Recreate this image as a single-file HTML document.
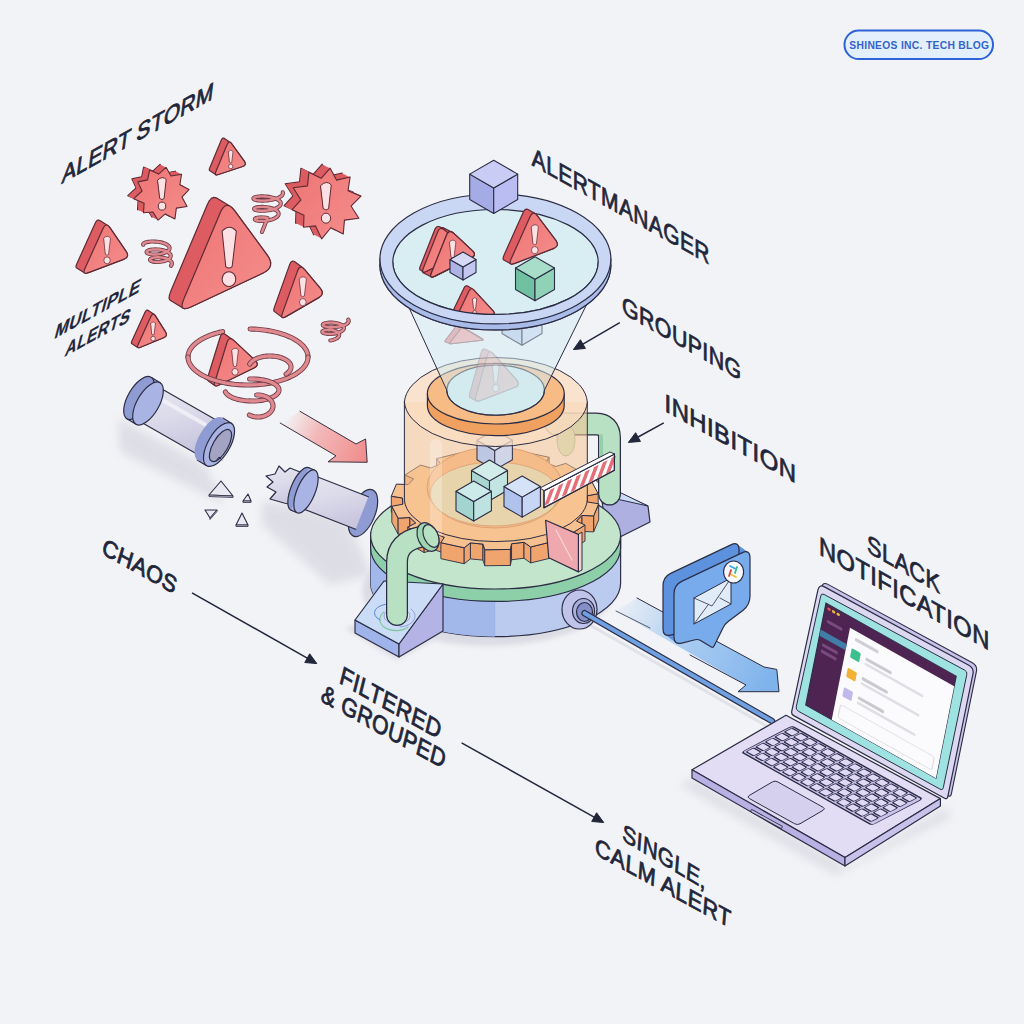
<!DOCTYPE html>
<html><head><meta charset="utf-8"><style>html,body{margin:0;padding:0;background:#f2f3f6;}svg{display:block;font-family:"Liberation Sans",sans-serif;}</style></head>
<body><svg width="1024" height="1024" viewBox="0 0 1024 1024"><defs>
<linearGradient id="redarrow" gradientUnits="userSpaceOnUse" x1="285" y1="418" x2="367" y2="458">
 <stop offset="0" stop-color="#f4b0b0" stop-opacity="0"/>
 <stop offset="0.4" stop-color="#f3a8a8" stop-opacity="0.8"/>
 <stop offset="1" stop-color="#f08a8a"/>
</linearGradient>
<linearGradient id="bluearrow" gradientUnits="userSpaceOnUse" x1="620" y1="600" x2="770" y2="680">
 <stop offset="0" stop-color="#a8cbf2" stop-opacity="0.1"/>
 <stop offset="0.45" stop-color="#9cc5f1" stop-opacity="0.85"/>
 <stop offset="1" stop-color="#7fb3ec"/>
</linearGradient>
<linearGradient id="redface" x1="0" y1="0" x2="1" y2="1">
 <stop offset="0" stop-color="#ee7474"/>
 <stop offset="1" stop-color="#f48e8c"/>
</linearGradient>
<linearGradient id="pipebody" x1="0" y1="0" x2="0.3" y2="1">
 <stop offset="0" stop-color="#e6e5f0"/>
 <stop offset="0.5" stop-color="#dcdbea"/>
 <stop offset="1" stop-color="#c9c6de"/>
</linearGradient>
<filter id="blur4" x="-30%" y="-30%" width="160%" height="160%"><feGaussianBlur stdDeviation="5"/></filter>
<filter id="blur2" x="-30%" y="-30%" width="160%" height="160%"><feGaussianBlur stdDeviation="2.5"/></filter>
</defs>
<rect width="1024" height="1024" fill="#f2f3f6"/>
<g filter="url(#blur4)" opacity="0.8">
<polygon points="118.00,418.00 205.00,465.00 225.00,505.00 120.00,452.00" fill="#d9dae2" stroke="none" stroke-width="1.2" stroke-linejoin="round" />
<polygon points="262.00,500.00 345.00,515.00 372.00,575.00 330.00,585.00 262.00,525.00" fill="#d9dae2" stroke="none" stroke-width="1.2" stroke-linejoin="round" />
<polygon points="680.00,785.00 835.00,875.00 950.00,818.00 948.00,806.00 845.00,866.00 692.00,778.00" fill="#d9dae2" stroke="none" stroke-width="1.2" stroke-linejoin="round" />
</g>
<g filter="url(#blur2)" opacity="0.9">
<ellipse cx="488.00" cy="591.00" rx="126.00" ry="55.00" fill="#d9dae2" stroke="none" stroke-width="1.2" />
<polygon points="345.00,628.00 396.00,660.00 450.00,632.00 440.00,600.00" fill="#d9dae2" stroke="none" stroke-width="1.2" stroke-linejoin="round" />
</g>
<path d="M590,625 L770,728" fill="none" stroke="#dcdde5" stroke-width="3" stroke-linejoin="round" stroke-linecap="round" opacity="0.8"/>
<path d="M282.77,192.22 L282.94,193.12 L282.79,194.02 L282.33,194.90 L281.56,195.76 L280.50,196.58 L279.17,197.35 L277.61,198.06 L275.85,198.69 L273.92,199.24 L271.88,199.70 L269.75,200.07 L267.60,200.35 L265.45,200.53 L263.37,200.62 L261.39,200.61 L259.56,200.52 L257.91,200.36 L256.48,200.12 L255.29,199.83 L254.38,199.49 L253.75,199.11 L253.43,198.72 L253.41,198.31 L253.69,197.92 L254.27,197.54 L255.13,197.19 L256.26,196.90 L257.62,196.66 L259.19,196.48 L260.93,196.39 L262.80,196.37 L264.76,196.45 L266.77,196.62 L268.79,196.88 L270.76,197.23 L272.66,197.68 L274.43,198.21 L276.05,198.82 L277.47,199.50 L278.66,200.24 L279.61,201.04 L280.29,201.87 L280.69,202.73 L280.80,203.60 L280.62,204.48 L280.15,205.33 L279.41,206.16 L278.41,206.95 L277.18,207.69 L275.74,208.37 L274.12,208.98 L272.36,209.50 L270.50,209.95 L268.57,210.30 L266.62,210.56 L264.70,210.73 L262.83,210.81 L261.06,210.80 L259.43,210.72 L257.97,210.56 L256.71,210.33 L255.68,210.05 L254.89,209.73 L254.37,209.38 L254.11,209.00 L254.14,208.63 L254.43,208.26 L255.00,207.91 L255.81,207.59 L256.85,207.33 L258.10,207.11 L259.54,206.97 L261.12,206.90 L262.81,206.91 L264.58,207.00 L266.39,207.18 L268.19,207.46 L269.95,207.82 L271.63,208.27 L273.20,208.80 L274.62,209.41 L275.86,210.08 L276.90,210.81 L277.71,211.59 L278.28,212.40 L278.59,213.24 L278.65,214.08 L278.44,214.93 L277.99,215.76 L277.29,216.56 L276.36,217.32 L275.22,218.03 L273.91,218.68 L272.44,219.26 L270.85,219.76 L269.17,220.19 L267.45,220.52 L265.71,220.77 L264.00,220.93 L262.34,221.00 L260.78,221.00 L259.35,220.91 L258.08,220.76 L256.98,220.55 L256.10,220.28 L255.43,219.98 L255.00,219.65 L254.81,219.30 L254.87,218.95 L255.17,218.61 L255.70,218.29 L256.46,218.00 L257.41,217.76 L258.55,217.58 L259.84,217.46 L261.26,217.41 L262.77,217.44 L264.34,217.56 L265.94,217.75 L267.53,218.04 L262.00,232.00" fill="none" stroke="#6e3a46" stroke-width="4.1" stroke-linejoin="round" stroke-linecap="round" />
<path d="M282.77,192.22 L282.94,193.12 L282.79,194.02 L282.33,194.90 L281.56,195.76 L280.50,196.58 L279.17,197.35 L277.61,198.06 L275.85,198.69 L273.92,199.24 L271.88,199.70 L269.75,200.07 L267.60,200.35 L265.45,200.53 L263.37,200.62 L261.39,200.61 L259.56,200.52 L257.91,200.36 L256.48,200.12 L255.29,199.83 L254.38,199.49 L253.75,199.11 L253.43,198.72 L253.41,198.31 L253.69,197.92 L254.27,197.54 L255.13,197.19 L256.26,196.90 L257.62,196.66 L259.19,196.48 L260.93,196.39 L262.80,196.37 L264.76,196.45 L266.77,196.62 L268.79,196.88 L270.76,197.23 L272.66,197.68 L274.43,198.21 L276.05,198.82 L277.47,199.50 L278.66,200.24 L279.61,201.04 L280.29,201.87 L280.69,202.73 L280.80,203.60 L280.62,204.48 L280.15,205.33 L279.41,206.16 L278.41,206.95 L277.18,207.69 L275.74,208.37 L274.12,208.98 L272.36,209.50 L270.50,209.95 L268.57,210.30 L266.62,210.56 L264.70,210.73 L262.83,210.81 L261.06,210.80 L259.43,210.72 L257.97,210.56 L256.71,210.33 L255.68,210.05 L254.89,209.73 L254.37,209.38 L254.11,209.00 L254.14,208.63 L254.43,208.26 L255.00,207.91 L255.81,207.59 L256.85,207.33 L258.10,207.11 L259.54,206.97 L261.12,206.90 L262.81,206.91 L264.58,207.00 L266.39,207.18 L268.19,207.46 L269.95,207.82 L271.63,208.27 L273.20,208.80 L274.62,209.41 L275.86,210.08 L276.90,210.81 L277.71,211.59 L278.28,212.40 L278.59,213.24 L278.65,214.08 L278.44,214.93 L277.99,215.76 L277.29,216.56 L276.36,217.32 L275.22,218.03 L273.91,218.68 L272.44,219.26 L270.85,219.76 L269.17,220.19 L267.45,220.52 L265.71,220.77 L264.00,220.93 L262.34,221.00 L260.78,221.00 L259.35,220.91 L258.08,220.76 L256.98,220.55 L256.10,220.28 L255.43,219.98 L255.00,219.65 L254.81,219.30 L254.87,218.95 L255.17,218.61 L255.70,218.29 L256.46,218.00 L257.41,217.76 L258.55,217.58 L259.84,217.46 L261.26,217.41 L262.77,217.44 L264.34,217.56 L265.94,217.75 L267.53,218.04 L262.00,232.00" fill="none" stroke="#e08a90" stroke-width="2.4" stroke-linejoin="round" stroke-linecap="round" />
<path d="M143.20,244.78 L143.09,244.30 L143.26,243.81 L143.72,243.34 L144.45,242.90 L145.43,242.50 L146.65,242.15 L148.07,241.87 L149.68,241.67 L151.42,241.54 L153.27,241.51 L155.18,241.58 L157.12,241.74 L159.04,242.00 L160.90,242.35 L162.66,242.80 L164.28,243.33 L165.74,243.94 L166.99,244.62 L168.02,245.36 L168.81,246.14 L169.33,246.95 L169.59,247.79 L169.57,248.62 L169.28,249.44 L168.73,250.24 L167.93,251.00 L166.90,251.71 L165.67,252.35 L164.27,252.93 L162.73,253.42 L161.09,253.82 L159.37,254.13 L157.63,254.35 L155.90,254.47 L154.22,254.50 L152.63,254.43 L151.17,254.28 L149.86,254.06 L148.74,253.76 L147.83,253.41 L147.15,253.01 L146.72,252.58 L146.55,252.13 L146.63,251.67 L146.98,251.22 L147.57,250.80 L148.41,250.41 L149.46,250.07 L150.71,249.78 L152.13,249.57 L153.69,249.44 L155.35,249.39 L157.08,249.43 L158.84,249.56 L160.60,249.79 L162.31,250.11 L163.95,250.52 L165.47,251.01 L166.85,251.58 L168.05,252.22 L169.05,252.92 L169.83,253.66 L170.39,254.44 L170.70,255.24 L170.76,256.04 L170.57,256.84 L170.15,257.62 L169.49,258.37 L168.63,259.07 L167.57,259.72 L166.35,260.29 L165.00,260.80 L163.54,261.22 L162.01,261.55 L160.44,261.79 L158.87,261.94 L157.34,262.00 L155.88,261.98 L154.53,261.87 L153.31,261.68 L152.25,261.43 L151.37,261.11 L150.70,260.75 L150.25,260.35 L150.03,259.94 L150.04,259.51 L150.29,259.08 L150.77,258.68 L151.46,258.30 L152.36,257.97 L153.44,257.69 L154.68,257.47 L156.06,257.33 L157.53,257.27 L159.08,257.29 L160.67,257.40 L162.26,257.60 L163.82,257.88 L165.33,258.26 L166.73,258.71 L168.01,259.24 L169.15,259.84 L170.11,260.50 L170.88,261.20 L171.44,261.95 L171.79,262.71 L171.92,263.49 L171.82,264.26 L171.51,265.02 L170.99,265.75" fill="none" stroke="#6e3a46" stroke-width="4.1" stroke-linejoin="round" stroke-linecap="round" />
<path d="M143.20,244.78 L143.09,244.30 L143.26,243.81 L143.72,243.34 L144.45,242.90 L145.43,242.50 L146.65,242.15 L148.07,241.87 L149.68,241.67 L151.42,241.54 L153.27,241.51 L155.18,241.58 L157.12,241.74 L159.04,242.00 L160.90,242.35 L162.66,242.80 L164.28,243.33 L165.74,243.94 L166.99,244.62 L168.02,245.36 L168.81,246.14 L169.33,246.95 L169.59,247.79 L169.57,248.62 L169.28,249.44 L168.73,250.24 L167.93,251.00 L166.90,251.71 L165.67,252.35 L164.27,252.93 L162.73,253.42 L161.09,253.82 L159.37,254.13 L157.63,254.35 L155.90,254.47 L154.22,254.50 L152.63,254.43 L151.17,254.28 L149.86,254.06 L148.74,253.76 L147.83,253.41 L147.15,253.01 L146.72,252.58 L146.55,252.13 L146.63,251.67 L146.98,251.22 L147.57,250.80 L148.41,250.41 L149.46,250.07 L150.71,249.78 L152.13,249.57 L153.69,249.44 L155.35,249.39 L157.08,249.43 L158.84,249.56 L160.60,249.79 L162.31,250.11 L163.95,250.52 L165.47,251.01 L166.85,251.58 L168.05,252.22 L169.05,252.92 L169.83,253.66 L170.39,254.44 L170.70,255.24 L170.76,256.04 L170.57,256.84 L170.15,257.62 L169.49,258.37 L168.63,259.07 L167.57,259.72 L166.35,260.29 L165.00,260.80 L163.54,261.22 L162.01,261.55 L160.44,261.79 L158.87,261.94 L157.34,262.00 L155.88,261.98 L154.53,261.87 L153.31,261.68 L152.25,261.43 L151.37,261.11 L150.70,260.75 L150.25,260.35 L150.03,259.94 L150.04,259.51 L150.29,259.08 L150.77,258.68 L151.46,258.30 L152.36,257.97 L153.44,257.69 L154.68,257.47 L156.06,257.33 L157.53,257.27 L159.08,257.29 L160.67,257.40 L162.26,257.60 L163.82,257.88 L165.33,258.26 L166.73,258.71 L168.01,259.24 L169.15,259.84 L170.11,260.50 L170.88,261.20 L171.44,261.95 L171.79,262.71 L171.92,263.49 L171.82,264.26 L171.51,265.02 L170.99,265.75" fill="none" stroke="#e08a90" stroke-width="2.4" stroke-linejoin="round" stroke-linecap="round" />
<path d="M348.22,319.63 L348.62,320.35 L348.76,321.08 L348.62,321.82 L348.23,322.54 L347.57,323.25 L346.67,323.93 L345.55,324.56 L344.23,325.14 L342.74,325.66 L341.11,326.11 L339.38,326.49 L337.57,326.79 L335.73,327.01 L333.89,327.15 L332.09,327.21 L330.38,327.18 L328.77,327.08 L327.30,326.92 L326.00,326.69 L324.90,326.40 L324.01,326.07 L323.35,325.71 L322.93,325.33 L322.76,324.93 L322.84,324.53 L323.15,324.14 L323.70,323.78 L324.47,323.44 L325.43,323.16 L326.56,322.92 L327.85,322.75 L329.25,322.64 L330.75,322.61 L332.29,322.65 L333.86,322.78 L335.41,322.98 L336.92,323.26 L338.35,323.62 L339.67,324.05 L340.85,324.54 L341.86,325.09 L342.70,325.70 L343.34,326.34 L343.76,327.02 L343.96,327.71 L343.94,328.42 L343.69,329.12 L343.23,329.81 L342.56,330.47 L341.70,331.10 L340.67,331.68 L339.49,332.21 L338.18,332.68 L336.76,333.08 L335.28,333.40 L333.76,333.66 L332.23,333.83 L330.72,333.93 L329.27,333.95 L327.89,333.90 L326.62,333.78 L325.48,333.60 L324.50,333.37 L323.68,333.08 L323.05,332.76 L322.61,332.42 L322.37,332.05 L322.33,331.69 L322.50,331.32 L322.85,330.98 L323.39,330.66 L324.09,330.37 L324.94,330.13 L325.93,329.95 L327.02,329.83 L328.19,329.77 L329.41,329.79 L330.66,329.88 L331.91,330.04 L333.13,330.28 L334.30,330.60 L335.39,330.98 L336.38,331.43 L337.24,331.93 L337.96,332.49 L338.53,333.09 L338.93,333.72 L339.15,334.38 L339.20,335.05 L339.07,335.72 L338.76,336.39 L338.28,337.03 L337.65,337.65 L336.87,338.23 L335.97,338.76 L334.96,339.24 L333.86,339.66 L332.70,340.01 L331.50,340.29 L330.28,340.50" fill="none" stroke="#6e3a46" stroke-width="4.1" stroke-linejoin="round" stroke-linecap="round" />
<path d="M348.22,319.63 L348.62,320.35 L348.76,321.08 L348.62,321.82 L348.23,322.54 L347.57,323.25 L346.67,323.93 L345.55,324.56 L344.23,325.14 L342.74,325.66 L341.11,326.11 L339.38,326.49 L337.57,326.79 L335.73,327.01 L333.89,327.15 L332.09,327.21 L330.38,327.18 L328.77,327.08 L327.30,326.92 L326.00,326.69 L324.90,326.40 L324.01,326.07 L323.35,325.71 L322.93,325.33 L322.76,324.93 L322.84,324.53 L323.15,324.14 L323.70,323.78 L324.47,323.44 L325.43,323.16 L326.56,322.92 L327.85,322.75 L329.25,322.64 L330.75,322.61 L332.29,322.65 L333.86,322.78 L335.41,322.98 L336.92,323.26 L338.35,323.62 L339.67,324.05 L340.85,324.54 L341.86,325.09 L342.70,325.70 L343.34,326.34 L343.76,327.02 L343.96,327.71 L343.94,328.42 L343.69,329.12 L343.23,329.81 L342.56,330.47 L341.70,331.10 L340.67,331.68 L339.49,332.21 L338.18,332.68 L336.76,333.08 L335.28,333.40 L333.76,333.66 L332.23,333.83 L330.72,333.93 L329.27,333.95 L327.89,333.90 L326.62,333.78 L325.48,333.60 L324.50,333.37 L323.68,333.08 L323.05,332.76 L322.61,332.42 L322.37,332.05 L322.33,331.69 L322.50,331.32 L322.85,330.98 L323.39,330.66 L324.09,330.37 L324.94,330.13 L325.93,329.95 L327.02,329.83 L328.19,329.77 L329.41,329.79 L330.66,329.88 L331.91,330.04 L333.13,330.28 L334.30,330.60 L335.39,330.98 L336.38,331.43 L337.24,331.93 L337.96,332.49 L338.53,333.09 L338.93,333.72 L339.15,334.38 L339.20,335.05 L339.07,335.72 L338.76,336.39 L338.28,337.03 L337.65,337.65 L336.87,338.23 L335.97,338.76 L334.96,339.24 L333.86,339.66 L332.70,340.01 L331.50,340.29 L330.28,340.50" fill="none" stroke="#e08a90" stroke-width="2.4" stroke-linejoin="round" stroke-linecap="round" />
<polygon points="160.03,164.32 165.03,172.97 175.55,171.17 173.90,181.72 182.99,186.53 175.93,194.01 181.05,203.54 170.36,205.15 168.92,215.92 159.29,210.89 152.04,217.21 146.97,209.03 137.50,209.77 138.10,200.28 127.72,195.68 136.07,187.99 131.82,178.89 141.64,176.85 143.58,167.05 152.71,171.11" fill="#dc5c61" stroke="#5e2a34" stroke-width="1.1" stroke-linejoin="round" />
<polygon points="160.63,164.62 165.63,173.27 176.15,171.47 174.50,182.02 183.59,186.83 176.53,194.31 181.65,203.84 170.96,205.45 169.52,216.22 159.89,211.19 152.64,217.51 147.57,209.33 138.10,210.07 138.70,200.58 128.32,195.98 136.67,188.29 132.42,179.19 142.24,177.15 144.18,167.35 153.31,171.41" fill="#dc5c61" stroke="none" stroke-width="1.1" stroke-linejoin="round" />
<polygon points="161.23,164.92 166.23,173.57 176.75,171.77 175.10,182.32 184.19,187.13 177.13,194.61 182.25,204.14 171.56,205.75 170.12,216.52 160.49,211.49 153.24,217.81 148.17,209.63 138.70,210.37 139.30,200.88 128.92,196.28 137.27,188.59 133.02,179.49 142.84,177.45 144.78,167.65 153.91,171.71" fill="#dc5c61" stroke="none" stroke-width="1.1" stroke-linejoin="round" />
<polygon points="161.83,165.22 166.83,173.87 177.35,172.07 175.70,182.62 184.79,187.43 177.73,194.91 182.85,204.44 172.16,206.05 170.72,216.82 161.09,211.79 153.84,218.11 148.77,209.93 139.30,210.67 139.90,201.18 129.52,196.58 137.87,188.89 133.62,179.79 143.44,177.75 145.38,167.95 154.51,172.01" fill="#dc5c61" stroke="none" stroke-width="1.1" stroke-linejoin="round" />
<polygon points="162.43,165.52 167.43,174.17 177.95,172.37 176.30,182.92 185.39,187.73 178.33,195.21 183.45,204.74 172.76,206.35 171.32,217.12 161.69,212.09 154.44,218.41 149.37,210.23 139.90,210.97 140.50,201.48 130.12,196.88 138.47,189.19 134.22,180.09 144.04,178.05 145.98,168.25 155.11,172.31" fill="#dc5c61" stroke="none" stroke-width="1.1" stroke-linejoin="round" />
<polygon points="163.03,165.82 168.03,174.47 178.55,172.67 176.90,183.22 185.99,188.03 178.93,195.51 184.05,205.04 173.36,206.65 171.92,217.42 162.29,212.39 155.04,218.71 149.97,210.53 140.50,211.27 141.10,201.78 130.72,197.18 139.07,189.49 134.82,180.39 144.64,178.35 146.58,168.55 155.71,172.61" fill="#dc5c61" stroke="none" stroke-width="1.1" stroke-linejoin="round" />
<polygon points="163.63,166.12 168.63,174.77 179.15,172.97 177.50,183.52 186.59,188.33 179.53,195.81 184.65,205.34 173.96,206.95 172.52,217.72 162.89,212.69 155.64,219.01 150.57,210.83 141.10,211.57 141.70,202.08 131.32,197.48 139.67,189.79 135.42,180.69 145.24,178.65 147.18,168.85 156.31,172.91" fill="#dc5c61" stroke="none" stroke-width="1.1" stroke-linejoin="round" />
<polygon points="164.23,166.42 169.23,175.07 179.75,173.27 178.10,183.82 187.19,188.63 180.13,196.11 185.25,205.64 174.56,207.25 173.12,218.02 163.49,212.99 156.24,219.31 151.17,211.13 141.70,211.87 142.30,202.38 131.92,197.78 140.27,190.09 136.02,180.99 145.84,178.95 147.78,169.15 156.91,173.21" fill="#dc5c61" stroke="none" stroke-width="1.1" stroke-linejoin="round" />
<polygon points="164.83,166.72 169.83,175.37 180.35,173.57 178.70,184.12 187.79,188.93 180.73,196.41 185.85,205.94 175.16,207.55 173.72,218.32 164.09,213.29 156.84,219.61 151.77,211.43 142.30,212.17 142.90,202.68 132.52,198.08 140.87,190.39 136.62,181.29 146.44,179.25 148.38,169.45 157.51,173.51" fill="#dc5c61" stroke="none" stroke-width="1.1" stroke-linejoin="round" />
<polygon points="165.43,167.02 170.43,175.67 180.95,173.87 179.30,184.42 188.39,189.23 181.33,196.71 186.45,206.24 175.76,207.85 174.32,218.62 164.69,213.59 157.44,219.91 152.37,211.73 142.90,212.47 143.50,202.98 133.12,198.38 141.47,190.69 137.22,181.59 147.04,179.55 148.98,169.75 158.11,173.81" fill="#dc5c61" stroke="none" stroke-width="1.1" stroke-linejoin="round" />
<polygon points="166.03,167.32 171.03,175.97 181.55,174.17 179.90,184.72 188.99,189.53 181.93,197.01 187.05,206.54 176.36,208.15 174.92,218.92 165.29,213.89 158.04,220.21 152.97,212.03 143.50,212.77 144.10,203.28 133.72,198.68 142.07,190.99 137.82,181.89 147.64,179.85 149.58,170.05 158.71,174.11" fill="url(#redface)" stroke="#5e2a34" stroke-width="1.1" stroke-linejoin="round" />
<path d="M157.80,180.00 Q162.47,175.33 166.20,179.53 L164.05,198.67 Q162.00,200.53 159.95,198.67 Z" fill="#fbe1e3" stroke="#5e2a34" stroke-width="1" stroke-linejoin="round" stroke-linecap="round" />
<ellipse cx="162.00" cy="206.13" rx="3.73" ry="4.01" fill="#fbe1e3" stroke="#5e2a34" stroke-width="1" />
<polygon points="322.20,164.17 328.60,176.14 342.15,172.99 340.01,186.73 353.01,192.12 343.02,202.02 350.84,214.23 336.47,216.15 335.27,230.00 322.86,223.73 313.68,234.87 307.40,221.86 295.55,223.18 295.99,211.27 284.12,205.66 292.98,195.98 285.16,183.77 299.53,181.85 300.88,168.28 313.14,174.27" fill="#dc5c61" stroke="#5e2a34" stroke-width="1.1" stroke-linejoin="round" />
<polygon points="323.00,164.57 329.40,176.54 342.95,173.39 340.81,187.13 353.81,192.52 343.82,202.42 351.64,214.63 337.27,216.55 336.07,230.40 323.66,224.13 314.48,235.27 308.20,222.26 296.35,223.58 296.79,211.67 284.92,206.06 293.78,196.38 285.96,184.17 300.33,182.25 301.68,168.68 313.94,174.67" fill="#dc5c61" stroke="none" stroke-width="1.1" stroke-linejoin="round" />
<polygon points="323.80,164.97 330.20,176.94 343.75,173.79 341.61,187.53 354.61,192.92 344.62,202.82 352.44,215.03 338.07,216.95 336.87,230.80 324.46,224.53 315.28,235.67 309.00,222.66 297.15,223.98 297.59,212.07 285.72,206.46 294.58,196.78 286.76,184.57 301.13,182.65 302.48,169.08 314.74,175.07" fill="#dc5c61" stroke="none" stroke-width="1.1" stroke-linejoin="round" />
<polygon points="324.60,165.37 331.00,177.34 344.55,174.19 342.41,187.93 355.41,193.32 345.42,203.22 353.24,215.43 338.87,217.35 337.67,231.20 325.26,224.93 316.08,236.07 309.80,223.06 297.95,224.38 298.39,212.47 286.52,206.86 295.38,197.18 287.56,184.97 301.93,183.05 303.28,169.48 315.54,175.47" fill="#dc5c61" stroke="none" stroke-width="1.1" stroke-linejoin="round" />
<polygon points="325.40,165.77 331.80,177.74 345.35,174.59 343.21,188.33 356.21,193.72 346.22,203.62 354.04,215.83 339.67,217.75 338.47,231.60 326.06,225.33 316.88,236.47 310.60,223.46 298.75,224.78 299.19,212.87 287.32,207.26 296.18,197.58 288.36,185.37 302.73,183.45 304.08,169.88 316.34,175.87" fill="#dc5c61" stroke="none" stroke-width="1.1" stroke-linejoin="round" />
<polygon points="326.20,166.17 332.60,178.14 346.15,174.99 344.01,188.73 357.01,194.12 347.02,204.02 354.84,216.23 340.47,218.15 339.27,232.00 326.86,225.73 317.68,236.87 311.40,223.86 299.55,225.18 299.99,213.27 288.12,207.66 296.98,197.98 289.16,185.77 303.53,183.85 304.88,170.28 317.14,176.27" fill="#dc5c61" stroke="none" stroke-width="1.1" stroke-linejoin="round" />
<polygon points="327.00,166.57 333.40,178.54 346.95,175.39 344.81,189.13 357.81,194.52 347.82,204.42 355.64,216.63 341.27,218.55 340.07,232.40 327.66,226.13 318.48,237.27 312.20,224.26 300.35,225.58 300.79,213.67 288.92,208.06 297.78,198.38 289.96,186.17 304.33,184.25 305.68,170.68 317.94,176.67" fill="#dc5c61" stroke="none" stroke-width="1.1" stroke-linejoin="round" />
<polygon points="327.80,166.97 334.20,178.94 347.75,175.79 345.61,189.53 358.61,194.92 348.62,204.82 356.44,217.03 342.07,218.95 340.87,232.80 328.46,226.53 319.28,237.67 313.00,224.66 301.15,225.98 301.59,214.07 289.72,208.46 298.58,198.78 290.76,186.57 305.13,184.65 306.48,171.08 318.74,177.07" fill="#dc5c61" stroke="none" stroke-width="1.1" stroke-linejoin="round" />
<polygon points="328.60,167.37 335.00,179.34 348.55,176.19 346.41,189.93 359.41,195.32 349.42,205.22 357.24,217.43 342.87,219.35 341.67,233.20 329.26,226.93 320.08,238.07 313.80,225.06 301.95,226.38 302.39,214.47 290.52,208.86 299.38,199.18 291.56,186.97 305.93,185.05 307.28,171.48 319.54,177.47" fill="#dc5c61" stroke="none" stroke-width="1.1" stroke-linejoin="round" />
<polygon points="329.40,167.77 335.80,179.74 349.35,176.59 347.21,190.33 360.21,195.72 350.22,205.62 358.04,217.83 343.67,219.75 342.47,233.60 330.06,227.33 320.88,238.47 314.60,225.46 302.75,226.78 303.19,214.87 291.32,209.26 300.18,199.58 292.36,187.37 306.73,185.45 308.08,171.88 320.34,177.87" fill="#dc5c61" stroke="none" stroke-width="1.1" stroke-linejoin="round" />
<polygon points="330.20,168.17 336.60,180.14 350.15,176.99 348.01,190.73 361.01,196.12 351.02,206.02 358.84,218.23 344.47,220.15 343.27,234.00 330.86,227.73 321.68,238.87 315.40,225.86 303.55,227.18 303.99,215.27 292.12,209.66 300.98,199.98 293.16,187.77 307.53,185.85 308.88,172.28 321.14,178.27" fill="url(#redface)" stroke="#5e2a34" stroke-width="1.1" stroke-linejoin="round" />
<path d="M320.75,185.50 Q326.58,179.67 331.25,184.92 L328.57,208.83 Q326.00,211.17 323.43,208.83 Z" fill="#fbe1e3" stroke="#5e2a34" stroke-width="1" stroke-linejoin="round" stroke-linecap="round" />
<ellipse cx="326.00" cy="218.17" rx="4.67" ry="5.02" fill="#fbe1e3" stroke="#5e2a34" stroke-width="1" />
<g>
<polygon points="209.29,169.92 209.37,168.96 209.80,167.68 221.20,140.32 221.83,139.11 222.50,138.34 223.23,138.03 224.02,138.17 230.02,142.17 230.85,142.76 231.73,143.80 244.27,161.20 244.98,162.40 245.29,163.48 245.21,164.42 244.72,165.24 243.84,165.92 242.56,166.48 218.44,174.52 217.13,174.85 216.17,174.86 215.56,174.55 209.56,170.55" fill="#dc5c61" stroke="#5e2a34" stroke-width="1.2" stroke-linejoin="round" />
<path d="M231.73,143.80 Q229.00,140.00 227.20,144.32 L215.80,171.68 Q214.00,176.00 218.44,174.52 L242.56,166.48 Q247.00,165.00 244.27,161.20 Z" fill="url(#redface)" stroke="#5e2a34" stroke-width="1.2" stroke-linejoin="round" stroke-linecap="round" />
<path d="M228.56,151.33 Q230.90,148.81 233.06,151.33 L231.73,162.49 Q230.72,163.39 229.71,162.49 Z" fill="#fbe1e3" stroke="#5e2a34" stroke-width="0.7" stroke-linejoin="round" stroke-linecap="round" />
<ellipse cx="230.72" cy="166.45" rx="2.16" ry="2.34" fill="#fbe1e3" stroke="#5e2a34" stroke-width="0.7" />
</g>
<g>
<polygon points="75.98,266.94 76.15,265.57 76.84,263.72 95.16,223.28 96.13,221.52 97.17,220.42 98.26,219.99 99.42,220.22 107.42,225.22 108.63,226.12 109.90,227.68 126.10,251.32 127.11,253.12 127.55,254.74 127.41,256.18 126.70,257.44 125.41,258.52 123.55,259.42 88.45,272.58 86.56,273.15 85.18,273.23 84.32,272.83 76.32,267.83" fill="#dc5c61" stroke="#5e2a34" stroke-width="1.2" stroke-linejoin="round" />
<path d="M109.90,227.68 Q106.00,222.00 103.16,228.28 L84.84,268.72 Q82.00,275.00 88.45,272.58 L123.55,259.42 Q130.00,257.00 126.10,251.32 Z" fill="url(#redface)" stroke="#5e2a34" stroke-width="1.2" stroke-linejoin="round" stroke-linecap="round" />
<path d="M103.88,238.08 Q107.33,234.37 110.50,238.08 L108.54,254.51 Q107.06,255.84 105.58,254.51 Z" fill="#fbe1e3" stroke="#5e2a34" stroke-width="0.7" stroke-linejoin="round" stroke-linecap="round" />
<ellipse cx="107.06" cy="260.34" rx="3.18" ry="3.45" fill="#fbe1e3" stroke="#5e2a34" stroke-width="0.7" />
</g>
<g>
<polygon points="169.05,298.23 169.37,295.34 170.75,291.34 207.25,204.66 209.25,200.82 211.42,198.40 213.76,197.40 216.26,197.82 229.26,205.82 231.94,207.67 234.78,210.94 267.22,255.06 269.53,258.88 270.61,262.39 270.45,265.59 269.06,268.47 266.44,271.04 262.58,273.30 191.42,306.70 187.48,308.25 184.60,308.68 182.79,308.01 169.79,300.01" fill="#dc5c61" stroke="#5e2a34" stroke-width="1.2" stroke-linejoin="round" />
<path d="M234.78,210.94 Q226.00,199.00 220.25,212.66 L183.75,299.34 Q178.00,313.00 191.42,306.70 L262.58,273.30 Q276.00,267.00 267.22,255.06 Z" fill="url(#redface)" stroke="#5e2a34" stroke-width="1.2" stroke-linejoin="round" stroke-linecap="round" />
<path d="M222.11,231.17 Q229.52,223.19 236.36,231.17 L232.14,266.51 Q228.95,269.36 225.75,266.51 Z" fill="#fbe1e3" stroke="#5e2a34" stroke-width="1.026" stroke-linejoin="round" stroke-linecap="round" />
<ellipse cx="228.95" cy="279.05" rx="6.84" ry="7.41" fill="#fbe1e3" stroke="#5e2a34" stroke-width="1.026" />
</g>
<g>
<polygon points="273.79,310.55 273.88,309.14 274.45,307.14 289.55,264.86 290.43,262.92 291.43,261.67 292.55,261.11 293.80,261.25 295.17,262.07 303.17,268.07 304.66,269.59 320.34,288.41 321.59,290.22 322.23,291.92 322.26,293.51 321.68,295.00 320.49,296.37 318.70,297.64 286.30,316.36 284.45,317.28 283.07,317.62 282.19,317.38 274.19,311.38" fill="#dc5c61" stroke="#5e2a34" stroke-width="1.2" stroke-linejoin="round" />
<path d="M304.66,269.59 Q300.00,264.00 297.55,270.86 L282.45,313.14 Q280.00,320.00 286.30,316.36 L318.70,297.64 Q325.00,294.00 320.34,288.41 Z" fill="url(#redface)" stroke="#5e2a34" stroke-width="1.2" stroke-linejoin="round" stroke-linecap="round" />
<path d="M299.43,278.67 Q303.07,274.75 306.43,278.67 L304.35,296.03 Q302.79,297.43 301.22,296.03 Z" fill="#fbe1e3" stroke="#5e2a34" stroke-width="0.7" stroke-linejoin="round" stroke-linecap="round" />
<ellipse cx="302.79" cy="302.19" rx="3.36" ry="3.64" fill="#fbe1e3" stroke="#5e2a34" stroke-width="0.7" />
</g>
<g>
<polygon points="131.39,342.86 131.52,341.91 132.01,340.63 144.99,312.37 145.68,311.15 146.39,310.40 147.14,310.11 147.91,310.30 153.91,314.30 154.71,314.95 155.55,316.08 165.45,331.92 166.11,333.22 166.37,334.39 166.25,335.43 165.74,336.35 164.83,337.14 163.54,337.81 140.46,347.19 139.15,347.62 138.20,347.71 137.62,347.45 131.62,343.45" fill="#dc5c61" stroke="#5e2a34" stroke-width="1.2" stroke-linejoin="round" />
<path d="M155.55,316.08 Q153.00,312.00 150.99,316.37 L138.01,344.63 Q136.00,349.00 140.46,347.19 L163.54,337.81 Q168.00,336.00 165.45,331.92 Z" fill="url(#redface)" stroke="#5e2a34" stroke-width="1.2" stroke-linejoin="round" stroke-linecap="round" />
<path d="M150.85,323.08 Q153.26,320.49 155.48,323.08 L154.11,334.55 Q153.07,335.48 152.04,334.55 Z" fill="#fbe1e3" stroke="#5e2a34" stroke-width="0.7" stroke-linejoin="round" stroke-linecap="round" />
<ellipse cx="153.07" cy="338.62" rx="2.22" ry="2.40" fill="#fbe1e3" stroke="#5e2a34" stroke-width="0.7" />
</g>
<path d="M222.64,331.62 L221.11,331.97 L219.60,332.34 L218.11,332.72 L216.65,333.13 L215.21,333.55 L213.80,333.99 L212.42,334.46 L211.06,334.94 L209.73,335.43 L208.44,335.95 L207.18,336.48 L205.95,337.03 L204.75,337.59 L203.59,338.17 L202.46,338.77 L201.37,339.38 L200.32,340.00 L199.31,340.64 L198.33,341.29 L197.40,341.96 L196.50,342.63 L195.65,343.32 L194.84,344.02 L194.07,344.73 L193.35,345.44 L192.67,346.17 L192.03,346.91 L191.44,347.65 L190.90,348.41 L190.40,349.16 L189.94,349.93 L189.54,350.70 L189.18,351.48 L188.87,352.26 L188.60,353.04 L188.39,353.83 L188.22,354.62 L188.10,355.41 L188.02,356.21 L188.00,357.00" fill="none" stroke="#6e3a46" stroke-width="5.1" stroke-linejoin="round" stroke-linecap="round" />
<path d="M222.64,331.62 L221.11,331.97 L219.60,332.34 L218.11,332.72 L216.65,333.13 L215.21,333.55 L213.80,333.99 L212.42,334.46 L211.06,334.94 L209.73,335.43 L208.44,335.95 L207.18,336.48 L205.95,337.03 L204.75,337.59 L203.59,338.17 L202.46,338.77 L201.37,339.38 L200.32,340.00 L199.31,340.64 L198.33,341.29 L197.40,341.96 L196.50,342.63 L195.65,343.32 L194.84,344.02 L194.07,344.73 L193.35,345.44 L192.67,346.17 L192.03,346.91 L191.44,347.65 L190.90,348.41 L190.40,349.16 L189.94,349.93 L189.54,350.70 L189.18,351.48 L188.87,352.26 L188.60,353.04 L188.39,353.83 L188.22,354.62 L188.10,355.41 L188.02,356.21 L188.00,357.00" fill="none" stroke="#e08a90" stroke-width="3.4" stroke-linejoin="round" stroke-linecap="round" />
<path d="M308.00,357.00 L307.96,355.93 L307.82,354.85 L307.60,353.78 L307.29,352.72 L306.90,351.66 L306.41,350.61 L305.85,349.56 L305.19,348.53 L304.45,347.52 L303.63,346.51 L302.73,345.52 L301.74,344.55 L300.68,343.60 L299.54,342.66 L298.32,341.75 L297.03,340.86 L295.66,339.99 L294.23,339.15 L292.73,338.34 L291.16,337.55 L289.53,336.79 L287.84,336.06 L286.08,335.36 L284.28,334.70 L282.41,334.06 L280.50,333.46 L278.54,332.90 L276.54,332.37 L274.49,331.88 L272.40,331.42 L270.28,331.00 L268.13,330.62 L265.94,330.28 L263.73,329.98 L261.50,329.72 L259.24,329.50 L256.97,329.31 L254.69,329.17 L252.39,329.08 L250.09,329.02" fill="none" stroke="#6e3a46" stroke-width="5.1" stroke-linejoin="round" stroke-linecap="round" />
<path d="M308.00,357.00 L307.96,355.93 L307.82,354.85 L307.60,353.78 L307.29,352.72 L306.90,351.66 L306.41,350.61 L305.85,349.56 L305.19,348.53 L304.45,347.52 L303.63,346.51 L302.73,345.52 L301.74,344.55 L300.68,343.60 L299.54,342.66 L298.32,341.75 L297.03,340.86 L295.66,339.99 L294.23,339.15 L292.73,338.34 L291.16,337.55 L289.53,336.79 L287.84,336.06 L286.08,335.36 L284.28,334.70 L282.41,334.06 L280.50,333.46 L278.54,332.90 L276.54,332.37 L274.49,331.88 L272.40,331.42 L270.28,331.00 L268.13,330.62 L265.94,330.28 L263.73,329.98 L261.50,329.72 L259.24,329.50 L256.97,329.31 L254.69,329.17 L252.39,329.08 L250.09,329.02" fill="none" stroke="#e08a90" stroke-width="3.4" stroke-linejoin="round" stroke-linecap="round" />
<g>
<polygon points="207.55,378.43 207.99,376.54 220.01,337.46 220.76,335.62 221.66,334.38 222.74,333.77 223.97,333.77 225.37,334.39 232.37,339.39 233.94,340.62 255.06,360.38 256.40,361.88 257.13,363.28 257.25,364.59 256.75,365.81 255.65,366.94 253.93,367.97 219.07,385.03 217.27,385.76 215.92,385.96 215.01,385.64 208.01,380.64 207.56,379.80" fill="#dc5c61" stroke="#5e2a34" stroke-width="1.2" stroke-linejoin="round" />
<path d="M233.94,340.62 Q229.00,336.00 227.01,342.46 L214.99,381.54 Q213.00,388.00 219.07,385.03 L253.93,367.97 Q260.00,365.00 255.06,360.38 Z" fill="url(#redface)" stroke="#5e2a34" stroke-width="1.2" stroke-linejoin="round" stroke-linecap="round" />
<path d="M231.92,350.00 Q235.30,346.36 238.42,350.00 L236.50,366.12 Q235.04,367.42 233.58,366.12 Z" fill="#fbe1e3" stroke="#5e2a34" stroke-width="0.7" stroke-linejoin="round" stroke-linecap="round" />
<ellipse cx="235.04" cy="371.84" rx="3.12" ry="3.38" fill="#fbe1e3" stroke="#5e2a34" stroke-width="0.7" />
</g>
<path d="M188.00,357.00 L188.18,359.20 L188.74,361.38 L189.66,363.54 L190.94,365.65 L192.57,367.72 L194.54,369.71 L196.84,371.63 L199.46,373.46 L202.38,375.18 L205.57,376.80 L209.03,378.29 L212.73,379.65 L216.65,380.87 L220.76,381.95 L225.04,382.87 L229.46,383.63 L233.99,384.23 L238.61,384.66 L243.29,384.91 L248.00,385.00 L252.71,384.91 L257.39,384.66 L262.01,384.23 L266.54,383.63 L270.96,382.87 L275.24,381.95 L279.35,380.87 L283.27,379.65 L286.97,378.29 L290.43,376.80 L293.62,375.18 L296.54,373.46 L299.16,371.63 L301.46,369.71 L303.43,367.72 L305.06,365.65 L306.34,363.54 L307.26,361.38 L307.82,359.20 L308.00,357.00" fill="none" stroke="#6e3a46" stroke-width="5.1" stroke-linejoin="round" stroke-linecap="round" />
<path d="M188.00,357.00 L188.18,359.20 L188.74,361.38 L189.66,363.54 L190.94,365.65 L192.57,367.72 L194.54,369.71 L196.84,371.63 L199.46,373.46 L202.38,375.18 L205.57,376.80 L209.03,378.29 L212.73,379.65 L216.65,380.87 L220.76,381.95 L225.04,382.87 L229.46,383.63 L233.99,384.23 L238.61,384.66 L243.29,384.91 L248.00,385.00 L252.71,384.91 L257.39,384.66 L262.01,384.23 L266.54,383.63 L270.96,382.87 L275.24,381.95 L279.35,380.87 L283.27,379.65 L286.97,378.29 L290.43,376.80 L293.62,375.18 L296.54,373.46 L299.16,371.63 L301.46,369.71 L303.43,367.72 L305.06,365.65 L306.34,363.54 L307.26,361.38 L307.82,359.20 L308.00,357.00" fill="none" stroke="#e08a90" stroke-width="3.4" stroke-linejoin="round" stroke-linecap="round" />
<path d="M249.72,364.15 L250.28,363.22 L251.01,362.31 L251.88,361.44 L252.90,360.61 L254.06,359.84 L255.35,359.12 L256.75,358.47 L258.26,357.88 L259.86,357.37 L261.54,356.93 L263.29,356.58 L265.10,356.30 L266.94,356.12 L268.81,356.02 L270.69,356.01 L272.56,356.08 L274.41,356.25 L276.23,356.49 L277.99,356.83 L279.70,357.24 L281.32,357.74 L282.86,358.30 L284.29,358.94 L285.61,359.64 L286.80,360.40 L287.86,361.21 L288.77,362.07 L289.54,362.97 L290.15,363.90 L290.60,364.85 L290.88,365.83 L291.00,366.81 L290.95,367.79 L290.73,368.77 L290.34,369.73 L289.80,370.67 L289.09,371.58 L288.23,372.46 L287.23,373.29 L286.09,374.07" fill="none" stroke="#6e3a46" stroke-width="5.1" stroke-linejoin="round" stroke-linecap="round" />
<path d="M249.72,364.15 L250.28,363.22 L251.01,362.31 L251.88,361.44 L252.90,360.61 L254.06,359.84 L255.35,359.12 L256.75,358.47 L258.26,357.88 L259.86,357.37 L261.54,356.93 L263.29,356.58 L265.10,356.30 L266.94,356.12 L268.81,356.02 L270.69,356.01 L272.56,356.08 L274.41,356.25 L276.23,356.49 L277.99,356.83 L279.70,357.24 L281.32,357.74 L282.86,358.30 L284.29,358.94 L285.61,359.64 L286.80,360.40 L287.86,361.21 L288.77,362.07 L289.54,362.97 L290.15,363.90 L290.60,364.85 L290.88,365.83 L291.00,366.81 L290.95,367.79 L290.73,368.77 L290.34,369.73 L289.80,370.67 L289.09,371.58 L288.23,372.46 L287.23,373.29 L286.09,374.07" fill="none" stroke="#e08a90" stroke-width="3.4" stroke-linejoin="round" stroke-linecap="round" />
<path d="M225.41,391.91 L226.13,393.15 L227.19,394.34 L228.59,395.48 L230.30,396.54 L232.29,397.52 L234.55,398.40 L237.05,399.16 L239.74,399.80 L242.60,400.31 L245.58,400.68 L248.65,400.92 L251.76,401.00 L254.88,400.94 L257.96,400.73 L260.96,400.38 L263.84,399.89 L266.56,399.26 L269.08,398.52 L271.38,397.66 L273.42,396.70 L275.17,395.64 L276.62,394.52 L277.73,393.33 L278.50,392.10 L278.92,390.84 L278.98,389.57 L278.68,388.30 L278.02,387.06 L277.01,385.86 L275.67,384.71 L274.02,383.63 L272.06,382.64 L269.85,381.75 L267.39,380.96 L264.73,380.30 L261.90,379.77 L258.93,379.37 L255.87,379.11 L252.77,379.00 L249.65,379.04" fill="none" stroke="#6e3a46" stroke-width="5.1" stroke-linejoin="round" stroke-linecap="round" />
<path d="M225.41,391.91 L226.13,393.15 L227.19,394.34 L228.59,395.48 L230.30,396.54 L232.29,397.52 L234.55,398.40 L237.05,399.16 L239.74,399.80 L242.60,400.31 L245.58,400.68 L248.65,400.92 L251.76,401.00 L254.88,400.94 L257.96,400.73 L260.96,400.38 L263.84,399.89 L266.56,399.26 L269.08,398.52 L271.38,397.66 L273.42,396.70 L275.17,395.64 L276.62,394.52 L277.73,393.33 L278.50,392.10 L278.92,390.84 L278.98,389.57 L278.68,388.30 L278.02,387.06 L277.01,385.86 L275.67,384.71 L274.02,383.63 L272.06,382.64 L269.85,381.75 L267.39,380.96 L264.73,380.30 L261.90,379.77 L258.93,379.37 L255.87,379.11 L252.77,379.00 L249.65,379.04" fill="none" stroke="#e08a90" stroke-width="3.4" stroke-linejoin="round" stroke-linecap="round" />
<path d="M256.69,395.04 L258.13,395.00 L259.57,395.06 L260.99,395.22 L262.39,395.48 L263.74,395.84 L265.04,396.29 L266.28,396.83 L267.44,397.45 L268.51,398.15 L269.49,398.93 L270.36,399.77 L271.12,400.67 L271.76,401.61 L272.27,402.60 L272.64,403.62 L272.89,404.66 L272.99,405.71 L272.96,406.77 L272.79,407.82 L272.49,408.85 L272.05,409.85 L271.48,410.82 L270.79,411.75 L269.98,412.62 L269.06,413.43 L268.04,414.17 L266.92,414.84 L265.73,415.43 L264.46,415.93 L263.13,416.34 L261.76,416.65 L260.35,416.86 L258.92,416.98 L257.48,416.99 L256.04,416.91 L254.63,416.72 L253.24,416.43 L251.90,416.05 L250.61,415.57 L249.40,415.01" fill="none" stroke="#6e3a46" stroke-width="5.1" stroke-linejoin="round" stroke-linecap="round" />
<path d="M256.69,395.04 L258.13,395.00 L259.57,395.06 L260.99,395.22 L262.39,395.48 L263.74,395.84 L265.04,396.29 L266.28,396.83 L267.44,397.45 L268.51,398.15 L269.49,398.93 L270.36,399.77 L271.12,400.67 L271.76,401.61 L272.27,402.60 L272.64,403.62 L272.89,404.66 L272.99,405.71 L272.96,406.77 L272.79,407.82 L272.49,408.85 L272.05,409.85 L271.48,410.82 L270.79,411.75 L269.98,412.62 L269.06,413.43 L268.04,414.17 L266.92,414.84 L265.73,415.43 L264.46,415.93 L263.13,416.34 L261.76,416.65 L260.35,416.86 L258.92,416.98 L257.48,416.99 L256.04,416.91 L254.63,416.72 L253.24,416.43 L251.90,416.05 L250.61,415.57 L249.40,415.01" fill="none" stroke="#e08a90" stroke-width="3.4" stroke-linejoin="round" stroke-linecap="round" />
<text transform="matrix(0.81519 0.45647 -0.00000 1 531.800 164.900)" font-family="Liberation Sans, sans-serif" font-size="25.700" font-weight="normal" fill="#22263a" stroke="#22263a" stroke-width="0.80" letter-spacing="0.514">ALERTMANAGER</text>
<text transform="matrix(0.85385 0.48528 -0.00000 1 622.000 313.100)" font-family="Liberation Sans, sans-serif" font-size="25.000" font-weight="normal" fill="#22263a" stroke="#22263a" stroke-width="0.80" letter-spacing="0.500">GROUPING</text>
<text transform="matrix(0.95264 0.52792 -0.00000 1 664.600 410.700)" font-family="Liberation Sans, sans-serif" font-size="25.000" font-weight="normal" fill="#22263a" stroke="#22263a" stroke-width="0.80" letter-spacing="0.500">INHIBITION</text>
<text transform="matrix(0.91513 0.50905 -0.30000 1 100.800 553.200)" font-family="Liberation Sans, sans-serif" font-size="22.000" font-weight="normal" fill="#22263a" stroke="#22263a" stroke-width="0.80" letter-spacing="0.440">CHAOS</text>
<text transform="matrix(0.85143 0.48312 -0.25000 1 338.600 682.600)" font-family="Liberation Sans, sans-serif" font-size="24.000" font-weight="normal" fill="#22263a" stroke="#22263a" stroke-width="0.80" letter-spacing="0.480">FILTERED</text>
<text transform="matrix(0.83361 0.45953 -0.25000 1 320.000 700.800)" font-family="Liberation Sans, sans-serif" font-size="24.000" font-weight="normal" fill="#22263a" stroke="#22263a" stroke-width="0.80" letter-spacing="0.480">&amp; GROUPED</text>
<text transform="matrix(0.85263 0.51174 -0.08000 1 622.000 839.900)" font-family="Liberation Sans, sans-serif" font-size="24.000" font-weight="normal" fill="#22263a" stroke="#22263a" stroke-width="0.80" letter-spacing="0.480">SINGLE,</text>
<text transform="matrix(0.88593 0.48425 -0.08000 1 594.600 854.000)" font-family="Liberation Sans, sans-serif" font-size="24.000" font-weight="normal" fill="#22263a" stroke="#22263a" stroke-width="0.80" letter-spacing="0.480">CALM ALERT</text>
<text transform="matrix(0.85184 0.48950 -0.00000 1 867.000 551.800)" font-family="Liberation Sans, sans-serif" font-size="25.500" font-weight="normal" fill="#22263a" stroke="#22263a" stroke-width="0.80" letter-spacing="0.510">SLACK</text>
<text transform="matrix(0.90979 0.51526 -0.00000 1 819.000 554.300)" font-family="Liberation Sans, sans-serif" font-size="26.000" font-weight="normal" fill="#22263a" stroke="#22263a" stroke-width="0.80" letter-spacing="0.520">NOTIFICATION</text>
<text transform="matrix(0.83349 -0.46680 -0.13000 1 61.200 183.800)" font-family="Liberation Sans, sans-serif" font-size="25.000" font-weight="normal" fill="#22263a" stroke="#22263a" stroke-width="0.90" letter-spacing="0.500">ALERT STORM</text>
<text transform="matrix(0.80205 -0.44439 -0.26000 1 53.400 339.300)" font-family="Liberation Sans, sans-serif" font-size="21.000" font-weight="bold" fill="#22263a" stroke="#22263a" stroke-width="0.25" letter-spacing="0.420">MULTIPLE</text>
<text transform="matrix(0.74870 -0.40939 -0.26000 1 64.000 356.900)" font-family="Liberation Sans, sans-serif" font-size="21.000" font-weight="bold" fill="#22263a" stroke="#22263a" stroke-width="0.25" letter-spacing="0.420">ALERTS</text>
<line x1="192.0" y1="592.8" x2="309.0" y2="659.2" stroke="#22263a" stroke-width="1.5"/>
<polygon points="316.80,663.60 304.77,662.52 309.70,653.82" fill="#22263a" stroke="#22263a" stroke-width="1" stroke-linejoin="round" />
<line x1="461.6" y1="742.8" x2="595.9" y2="818.1" stroke="#22263a" stroke-width="1.5"/>
<polygon points="603.75,822.50 591.71,821.48 596.60,812.76" fill="#22263a" stroke="#22263a" stroke-width="1" stroke-linejoin="round" />
<line x1="619.8" y1="322.7" x2="581.2" y2="345.1" stroke="#22263a" stroke-width="1.5"/>
<polygon points="573.40,349.60 580.41,339.76 585.42,348.41" fill="#22263a" stroke="#22263a" stroke-width="1" stroke-linejoin="round" />
<line x1="663.8" y1="422.8" x2="636.3" y2="438.0" stroke="#22263a" stroke-width="1.5"/>
<polygon points="628.40,442.40 635.60,432.70 640.45,441.45" fill="#22263a" stroke="#22263a" stroke-width="1" stroke-linejoin="round" />
<polygon points="126.49,418.48 135.49,423.98 160.51,383.02 151.51,377.52" fill="#aab4e4" stroke="none" stroke-width="1.2" stroke-linejoin="round" />
<path d="M126.49,418.48 L135.49,423.98 M151.51,377.52 L160.51,383.02" fill="none" stroke="#2c2d44" stroke-width="1.2" stroke-linejoin="round" stroke-linecap="round" />
<ellipse cx="139.00" cy="398.00" rx="11.00" ry="24.00" fill="#8f9bd3" stroke="#2c2d44" stroke-width="1.2" transform="rotate(30.00 139.00 398.00)" />
<polygon points="137.33,419.93 200.33,455.93 219.67,422.07 156.67,386.07" fill="url(#pipebody)" stroke="none" stroke-width="1.2" stroke-linejoin="round" />
<path d="M137.33,419.93 L200.33,455.93 M156.67,386.07 L219.67,422.07" fill="none" stroke="#2c2d44" stroke-width="1.2" stroke-linejoin="round" stroke-linecap="round" />
<path d="M150,393 L206,425" fill="none" stroke="#f4f3f9" stroke-width="4" stroke-linejoin="round" stroke-linecap="round" opacity="0.8"/>
<ellipse cx="148.00" cy="403.50" rx="11.00" ry="24.00" fill="#aab4e4" stroke="#2c2d44" stroke-width="1.2" transform="rotate(30.00 148.00 403.50)" />
<polygon points="197.22,459.91 206.22,465.41 231.78,423.59 222.78,418.09" fill="#aab4e4" stroke="none" stroke-width="1.2" stroke-linejoin="round" />
<path d="M197.22,459.91 L206.22,465.41 M222.78,418.09 L231.78,423.59" fill="none" stroke="#2c2d44" stroke-width="1.2" stroke-linejoin="round" stroke-linecap="round" />
<ellipse cx="210.00" cy="439.00" rx="11.00" ry="24.50" fill="#8f9bd3" stroke="#2c2d44" stroke-width="0" transform="rotate(30.00 210.00 439.00)" />
<ellipse cx="219.00" cy="444.50" rx="11.00" ry="24.50" fill="#aab4e4" stroke="#2c2d44" stroke-width="1.2" transform="rotate(30.00 219.00 444.50)" />
<ellipse cx="220.50" cy="445.50" rx="7.50" ry="18.00" fill="#a3a4c3" stroke="#2c2d44" stroke-width="1.2" transform="rotate(30.00 220.50 445.50)" />
<path d="M216,461 l3,-4 l3,3" fill="none" stroke="#2c2d44" stroke-width="1.0" stroke-linejoin="round" stroke-linecap="round" fill="#a3a4c3"/>
<ellipse cx="363.00" cy="513.00" rx="12.00" ry="25.00" fill="#8f9bd3" stroke="#2c2d44" stroke-width="1.2" transform="rotate(22.62 363.00 513.00)" />
<polygon points="296.64,506.30 355.64,529.30 368.36,496.70 309.36,473.70" fill="url(#pipebody)" stroke="none" stroke-width="1.2" stroke-linejoin="round" />
<path d="M296.64,506.30 L355.64,529.30 M309.36,473.70 L368.36,496.70" fill="none" stroke="#2c2d44" stroke-width="1.2" stroke-linejoin="round" stroke-linecap="round" />
<polygon points="266.00,476.00 275.00,474.00 279.00,466.00 285.00,472.00 290.00,468.00 300.00,472.00 306.00,508.00 284.00,503.00 270.00,499.00 276.00,492.00 267.00,487.00 273.00,482.00" fill="url(#pipebody)" stroke="#2c2d44" stroke-width="1.2" stroke-linejoin="round" />
<ellipse cx="300.00" cy="489.00" rx="9.00" ry="23.00" fill="#8f9bd3" stroke="#2c2d44" stroke-width="1.2" transform="rotate(22.62 300.00 489.00)" />
<polygon points="291.15,510.23 297.15,512.73 314.85,470.27 308.85,467.77" fill="#aab4e4" stroke="none" stroke-width="1.2" stroke-linejoin="round" />
<path d="M291.15,510.23 L297.15,512.73 M308.85,467.77 L314.85,470.27" fill="none" stroke="#2c2d44" stroke-width="1.2" stroke-linejoin="round" stroke-linecap="round" />
<ellipse cx="306.00" cy="491.50" rx="9.00" ry="23.00" fill="#aab4e4" stroke="#2c2d44" stroke-width="1.2" transform="rotate(22.62 306.00 491.50)" />
<polygon points="221.00,481.00 209.00,495.00 233.00,496.00" fill="#e9e9f1" stroke="#2c2d44" stroke-width="1.1" stroke-linejoin="round" />
<polygon points="209.00,495.00 233.00,496.00 233.00,497.50 209.00,496.50" fill="#c7c7d8" stroke="#2c2d44" stroke-width="0.8" stroke-linejoin="round" />
<polygon points="248.00,494.00 243.00,501.00 251.00,501.00" fill="#e9e9f1" stroke="#2c2d44" stroke-width="1.1" stroke-linejoin="round" />
<polygon points="243.00,501.00 251.00,501.00 251.00,502.50 243.00,502.50" fill="#c7c7d8" stroke="#2c2d44" stroke-width="0.8" stroke-linejoin="round" />
<polygon points="205.00,510.00 217.00,510.00 210.00,518.00" fill="#e9e9f1" stroke="#2c2d44" stroke-width="1.1" stroke-linejoin="round" />
<polygon points="217.00,510.00 210.00,518.00 210.00,519.50 217.00,511.50" fill="#c7c7d8" stroke="#2c2d44" stroke-width="0.8" stroke-linejoin="round" />
<polygon points="242.00,513.00 236.00,525.00 248.00,525.00" fill="#e9e9f1" stroke="#2c2d44" stroke-width="1.1" stroke-linejoin="round" />
<polygon points="236.00,525.00 248.00,525.00 248.00,526.50 236.00,526.50" fill="#c7c7d8" stroke="#2c2d44" stroke-width="0.8" stroke-linejoin="round" />
<polygon points="280.20,423.00 300.00,411.30 356.00,444.00 365.60,439.00 367.20,462.30 328.00,461.80 336.00,455.80" fill="url(#redarrow)" stroke="none" stroke-width="1.2" stroke-linejoin="round" />
<path d="M300,411.3 L356,444 L365.6,439 L367.2,462.3 L328,461.8 L336,455.8 L280.2,423" fill="none" stroke="#3a2f3f" stroke-width="1.0" stroke-linejoin="round" stroke-linecap="round" />
<path d="M370.6,532.4 L370.6,583.2 A125,53.5 0 0 0 620.6,583.2 L620.6,532.4 Z" fill="#bacbef" stroke="#2c2d44" stroke-width="1.2" stroke-linejoin="round" stroke-linecap="round" />
<path d="M370.6,532.4 L370.6,583.2 A125,53.5 0 0 0 494.7,636.7 L494.7,600 Z" fill="#a2b8ea" stroke="none" stroke-width="1.2" stroke-linejoin="round" stroke-linecap="round" />
<path d="M494.7,601 L494.7,636.7" fill="none" stroke="#8ea3e0" stroke-width="0.8" stroke-linejoin="round" stroke-linecap="round" opacity="0.6"/>
<polygon points="600.00,484.00 648.00,506.00 650.00,522.00 620.00,537.00 605.00,525.00" fill="#aeb0e2" stroke="#2c2d44" stroke-width="1.2" stroke-linejoin="round" />
<polygon points="594.00,478.00 615.00,490.00 648.00,506.00 612.00,498.00" fill="#cddcf6" stroke="#2c2d44" stroke-width="1" stroke-linejoin="round" />
<path d="M370.6,535.5 L370.6,548 A125,53.5 0 0 0 620.6,548 L620.6,535.5 Z" fill="#8dcfa9" stroke="#2c2d44" stroke-width="1.2" stroke-linejoin="round" stroke-linecap="round" />
<ellipse cx="495.60" cy="535.50" rx="125.00" ry="53.50" fill="#c3e5cb" stroke="#2c2d44" stroke-width="1.2" />
<polygon points="549.14,457.31 545.64,462.75 545.64,478.75 549.14,473.31" fill="#efa56d" stroke="#2c2d44" stroke-width="0.9" stroke-linejoin="round" />
<polygon points="440.59,464.00 436.54,458.65 436.54,474.65 440.59,480.00" fill="#efa56d" stroke="#2c2d44" stroke-width="0.9" stroke-linejoin="round" />
<polygon points="582.31,472.83 574.24,477.00 574.24,493.00 582.31,488.83" fill="#efa56d" stroke="#2c2d44" stroke-width="0.9" stroke-linejoin="round" />
<polygon points="413.49,478.91 405.01,474.94 405.01,490.94 413.49,494.91" fill="#efa56d" stroke="#2c2d44" stroke-width="0.9" stroke-linejoin="round" />
<polygon points="598.18,493.73 587.15,495.81 587.15,511.81 598.18,509.73" fill="#efa56d" stroke="#2c2d44" stroke-width="0.9" stroke-linejoin="round" />
<polygon points="402.53,498.00 391.30,496.19 391.30,512.19 402.53,514.00" fill="#efa56d" stroke="#2c2d44" stroke-width="0.9" stroke-linejoin="round" />
<polygon points="402.85,504.19 402.53,498.00 402.53,514.00 402.85,520.19" fill="#efa56d" stroke="#2c2d44" stroke-width="0.9" stroke-linejoin="round" />
<polygon points="598.70,503.81 593.62,515.88 593.62,531.88 598.70,519.81" fill="#efa56d" stroke="#2c2d44" stroke-width="0.9" stroke-linejoin="round" />
<polygon points="398.13,518.20 391.82,506.27 391.82,522.27 398.13,534.20" fill="#efa56d" stroke="#2c2d44" stroke-width="0.9" stroke-linejoin="round" />
<polygon points="593.62,515.88 581.80,515.45 581.80,531.45 593.62,531.88" fill="#efa56d" stroke="#2c2d44" stroke-width="0.9" stroke-linejoin="round" />
<polygon points="409.89,517.49 398.13,518.20 398.13,534.20 409.89,533.49" fill="#efa56d" stroke="#2c2d44" stroke-width="0.9" stroke-linejoin="round" />
<polygon points="581.80,515.45 576.51,521.09 576.51,537.09 581.80,531.45" fill="#efa56d" stroke="#2c2d44" stroke-width="0.9" stroke-linejoin="round" />
<polygon points="415.76,523.00 409.89,517.49 409.89,533.49 415.76,539.00" fill="#efa56d" stroke="#2c2d44" stroke-width="0.9" stroke-linejoin="round" />
<polygon points="584.99,525.06 569.52,534.88 569.52,550.88 584.99,541.06" fill="#efa56d" stroke="#2c2d44" stroke-width="0.9" stroke-linejoin="round" />
<polygon points="424.15,536.60 407.69,527.17 407.69,543.17 424.15,552.60" fill="#efa56d" stroke="#2c2d44" stroke-width="0.9" stroke-linejoin="round" />
<polygon points="569.52,534.88 559.26,532.03 559.26,548.03 569.52,550.88" fill="#efa56d" stroke="#2c2d44" stroke-width="0.9" stroke-linejoin="round" />
<polygon points="559.26,532.03 549.41,536.00 549.41,552.00 559.26,548.03" fill="#efa56d" stroke="#2c2d44" stroke-width="0.9" stroke-linejoin="round" />
<polygon points="434.10,533.51 424.15,536.60 424.15,552.60 434.10,549.51" fill="#efa56d" stroke="#2c2d44" stroke-width="0.9" stroke-linejoin="round" />
<polygon points="444.36,537.25 434.10,533.51 434.10,549.51 444.36,553.25" fill="#efa56d" stroke="#2c2d44" stroke-width="0.9" stroke-linejoin="round" />
<polygon points="524.00,542.26 511.53,543.78 511.53,559.78 524.00,558.26" fill="#efa56d" stroke="#2c2d44" stroke-width="0.9" stroke-linejoin="round" />
<polygon points="482.99,544.12 470.38,542.90 470.38,558.90 482.99,560.12" fill="#efa56d" stroke="#2c2d44" stroke-width="0.9" stroke-linejoin="round" />
<polygon points="553.46,541.35 530.67,546.97 530.67,562.97 553.46,557.35" fill="#efa56d" stroke="#2c2d44" stroke-width="0.9" stroke-linejoin="round" />
<polygon points="530.67,546.97 524.00,542.26 524.00,558.26 530.67,562.97" fill="#efa56d" stroke="#2c2d44" stroke-width="0.9" stroke-linejoin="round" />
<polygon points="464.20,547.76 440.86,542.69 440.86,558.69 464.20,563.76" fill="#efa56d" stroke="#2c2d44" stroke-width="0.9" stroke-linejoin="round" />
<polygon points="470.38,542.90 464.20,547.76 464.20,563.76 470.38,558.90" fill="#efa56d" stroke="#2c2d44" stroke-width="0.9" stroke-linejoin="round" />
<polygon points="511.53,543.78 510.35,549.45 510.35,565.45 511.53,559.78" fill="#efa56d" stroke="#2c2d44" stroke-width="0.9" stroke-linejoin="round" />
<polygon points="484.75,549.76 482.99,544.12 482.99,560.12 484.75,565.76" fill="#efa56d" stroke="#2c2d44" stroke-width="0.9" stroke-linejoin="round" />
<polygon points="510.35,549.45 484.75,549.76 484.75,565.76 510.35,565.45" fill="#efa56d" stroke="#2c2d44" stroke-width="0.9" stroke-linejoin="round" />
<polygon points="587.47,502.00 598.70,503.81 593.62,515.88 581.80,515.45 576.51,521.09 584.99,525.06 569.52,534.88 559.26,532.03 549.41,536.00 553.46,541.35 530.67,546.97 524.00,542.26 511.53,543.78 510.35,549.45 484.75,549.76 482.99,544.12 470.38,542.90 464.20,547.76 440.86,542.69 444.36,537.25 434.10,533.51 424.15,536.60 407.69,527.17 415.76,523.00 409.89,517.49 398.13,518.20 391.82,506.27 402.85,504.19 402.53,498.00 391.30,496.19 396.38,484.12 408.20,484.55 413.49,478.91 405.01,474.94 420.48,465.12 430.74,467.97 440.59,464.00 436.54,458.65 459.33,453.03 466.00,457.74 478.47,456.22 479.65,450.55 505.25,450.24 507.01,455.88 519.62,457.10 525.80,452.24 549.14,457.31 545.64,462.75 555.90,466.49 565.85,463.40 582.31,472.83 574.24,477.00 580.11,482.51 591.87,481.80 598.18,493.73 587.15,495.81" fill="#f6c08f" stroke="#2c2d44" stroke-width="1.0" stroke-linejoin="round" />
<ellipse cx="495.00" cy="487.50" rx="68.00" ry="40.50" fill="#f2b07a" stroke="#b66f45" stroke-width="0.9" />
<ellipse cx="494.50" cy="494.00" rx="64.50" ry="32.00" fill="#d3e6c9" stroke="#b66f45" stroke-width="0.8" />
<path d="M556,424 L596,424 Q609.5,424 609.5,438 L609.5,494" fill="none" stroke="#2c2d44" stroke-width="23" stroke-linejoin="round" stroke-linecap="round" />
<path d="M556,424 L596,424 Q609.5,424 609.5,438 L609.5,494" fill="none" stroke="#b7e1c2" stroke-width="20.5" stroke-linejoin="round" stroke-linecap="round" />
<path d="M601,436 L601,470" fill="none" stroke="#94cfa9" stroke-width="4" stroke-linejoin="round" stroke-linecap="round" />
<ellipse cx="566.00" cy="440.00" rx="9.00" ry="16.00" fill="#c9e6cf" stroke="#8aa890" stroke-width="0.8" transform="rotate(0.00 566.00 440.00)" />
<path d="M404.4,402 L404.4,500 A91.5,43 0 0 0 587.3,500 L587.3,402" fill="#f8c594" stroke="#2c2d44" stroke-width="1.0" stroke-linejoin="round" stroke-linecap="round" fill-opacity="0.55"/>
<path d="M436,445 L436,535" fill="none" stroke="#ffffff" stroke-width="12" stroke-linejoin="round" stroke-linecap="round" opacity="0.25"/>
<g opacity="0.90">
<polygon points="477.00,440.27 494.70,450.53 494.70,470.00 477.00,459.74" fill="#b9c9eb" stroke="#2c2d44" stroke-width="1.1" stroke-linejoin="round" />
<polygon points="494.70,450.53 512.40,440.27 512.40,459.74 494.70,470.00" fill="#cbd9f3" stroke="#2c2d44" stroke-width="1.1" stroke-linejoin="round" />
<polygon points="494.70,430.00 512.40,440.27 494.70,450.53 477.00,440.27" fill="#dfe8f7" stroke="#2c2d44" stroke-width="1.1" stroke-linejoin="round" />
</g>
<g opacity="1.00">
<polygon points="471.50,470.44 489.50,480.88 489.50,500.68 471.50,490.24" fill="#a9d6d0" stroke="#2c2d44" stroke-width="1.1" stroke-linejoin="round" />
<polygon points="489.50,480.88 507.50,470.44 507.50,490.24 489.50,500.68" fill="#c2e4e2" stroke="#2c2d44" stroke-width="1.1" stroke-linejoin="round" />
<polygon points="489.50,460.00 507.50,470.44 489.50,480.88 471.50,470.44" fill="#d2ecea" stroke="#2c2d44" stroke-width="1.1" stroke-linejoin="round" />
</g>
<g opacity="1.00">
<polygon points="456.00,491.27 473.70,501.53 473.70,521.00 456.00,510.74" fill="#a3d4d0" stroke="#2c2d44" stroke-width="1.1" stroke-linejoin="round" />
<polygon points="473.70,501.53 491.40,491.27 491.40,510.74 473.70,521.00" fill="#bde2df" stroke="#2c2d44" stroke-width="1.1" stroke-linejoin="round" />
<polygon points="473.70,481.00 491.40,491.27 473.70,501.53 456.00,491.27" fill="#cdeaea" stroke="#2c2d44" stroke-width="1.1" stroke-linejoin="round" />
</g>
<g opacity="1.00">
<polygon points="504.00,486.56 522.20,497.11 522.20,517.13 504.00,506.58" fill="#b0c3ec" stroke="#2c2d44" stroke-width="1.1" stroke-linejoin="round" />
<polygon points="522.20,497.11 540.40,486.56 540.40,506.58 522.20,517.13" fill="#c8d6f5" stroke="#2c2d44" stroke-width="1.1" stroke-linejoin="round" />
<polygon points="522.20,476.00 540.40,486.56 522.20,497.11 504.00,486.56" fill="#d6e2f7" stroke="#2c2d44" stroke-width="1.1" stroke-linejoin="round" />
</g>
<path d="M404.4,402 A91.5,46 0 0 1 587.3,402 A91.5,46 0 0 1 404.4,402 Z" fill="#fbdcc0" stroke="#2c2d44" stroke-width="1.0" stroke-linejoin="round" stroke-linecap="round" fill-opacity="0.75"/>
<path d="M427.4,393.7 L427.4,405.4 A68.4,30.3 0 0 0 564.2,405.4 L564.2,393.7 Z" fill="#f0a05f" stroke="#2c2d44" stroke-width="1.2" stroke-linejoin="round" stroke-linecap="round" />
<ellipse cx="495.80" cy="393.70" rx="68.40" ry="30.30" fill="#f7bc86" stroke="#2c2d44" stroke-width="1.2" />
<ellipse cx="495.60" cy="390.20" rx="48.80" ry="25.00" fill="#d5eaea" stroke="#2c2d44" stroke-width="1.2" />
<g opacity="0.40">
<polygon points="469.49,395.23 469.88,393.24 481.12,352.76 481.82,350.84 482.68,349.59 483.70,349.00 484.86,349.08 490.86,352.08 492.19,352.83 493.66,354.25 516.34,379.75 517.58,381.43 518.20,382.95 518.20,384.32 517.57,385.53 516.32,386.60 514.44,387.51 480.56,400.49 478.60,401.07 477.12,401.13 476.11,400.68 470.11,397.68 469.56,396.71" fill="#dc5c61" stroke="#5e2a34" stroke-width="1.2" stroke-linejoin="round" />
<path d="M493.66,354.25 Q489.00,349.00 487.12,355.76 L475.88,396.24 Q474.00,403.00 480.56,400.49 L514.44,387.51 Q521.00,385.00 516.34,379.75 Z" fill="url(#redface)" stroke="#5e2a34" stroke-width="1.2" stroke-linejoin="round" stroke-linecap="round" />
<path d="M492.51,365.50 Q496.02,361.72 499.26,365.50 L497.26,382.24 Q495.75,383.59 494.23,382.24 Z" fill="#fbe1e3" stroke="#5e2a34" stroke-width="0.7" stroke-linejoin="round" stroke-linecap="round" />
<ellipse cx="495.75" cy="388.18" rx="3.24" ry="3.51" fill="#fbe1e3" stroke="#5e2a34" stroke-width="0.7" />
</g>
<polygon points="544.00,490.60 614.40,454.00 614.40,470.30 544.00,507.80" fill="#fdfdfd" stroke="#2c2d44" stroke-width="1.2" stroke-linejoin="round" />
<polygon points="550.11,490.00 554.69,487.62 548.69,503.62 544.11,506.00" fill="#e46d77" stroke="none" stroke-width="1.2" stroke-linejoin="round" />
<polygon points="558.91,485.43 563.49,483.05 557.49,499.05 552.91,501.43" fill="#e46d77" stroke="none" stroke-width="1.2" stroke-linejoin="round" />
<polygon points="567.71,480.85 572.29,478.47 566.29,494.47 561.71,496.85" fill="#e46d77" stroke="none" stroke-width="1.2" stroke-linejoin="round" />
<polygon points="576.51,476.28 581.09,473.90 575.09,489.90 570.51,492.28" fill="#e46d77" stroke="none" stroke-width="1.2" stroke-linejoin="round" />
<polygon points="585.31,471.70 589.89,469.32 583.89,485.32 579.31,487.70" fill="#e46d77" stroke="none" stroke-width="1.2" stroke-linejoin="round" />
<polygon points="594.11,467.13 598.69,464.75 592.69,480.75 588.11,483.13" fill="#e46d77" stroke="none" stroke-width="1.2" stroke-linejoin="round" />
<polygon points="602.91,462.55 607.49,460.17 601.49,476.17 596.91,478.55" fill="#e46d77" stroke="none" stroke-width="1.2" stroke-linejoin="round" />
<polygon points="611.71,457.98 616.29,455.60 610.29,471.60 605.71,473.98" fill="#e46d77" stroke="none" stroke-width="1.2" stroke-linejoin="round" />
<polygon points="544.00,490.60 614.40,454.00 614.40,470.30 544.00,507.80" fill="none" stroke="#2c2d44" stroke-width="1.2" stroke-linejoin="round" />
<polygon points="540.00,488.00 610.00,452.00 614.40,454.00 544.00,490.60" fill="#ffffff" stroke="#2c2d44" stroke-width="1" stroke-linejoin="round" />
<polygon points="578.40,534.40 582.00,532.00 582.00,570.00 578.40,571.90" fill="#f4d2cf" stroke="#2c2d44" stroke-width="1" stroke-linejoin="round" />
<polygon points="545.60,520.30 578.40,534.40 578.40,571.90 548.75,557.80" fill="#efa9ae" stroke="#2c2d44" stroke-width="1.2" stroke-linejoin="round" />
<path d="M556,530 L572,560" fill="none" stroke="#ffffff" stroke-width="1.2" stroke-linejoin="round" stroke-linecap="round" opacity="0.5"/>
<polygon points="355.00,620.00 399.00,644.00 399.00,657.00 355.00,633.00" fill="#9fb4ea" stroke="#2c2d44" stroke-width="1.2" stroke-linejoin="round" />
<polygon points="399.00,644.00 443.00,584.00 443.00,631.00 399.00,657.00" fill="#b3b3e6" stroke="#2c2d44" stroke-width="1.2" stroke-linejoin="round" />
<polygon points="355.00,620.00 384.00,581.00 443.00,584.00 399.00,644.00" fill="#cadcf6" stroke="#2c2d44" stroke-width="1.2" stroke-linejoin="round" />
<ellipse cx="397.00" cy="616.00" rx="13.00" ry="8.00" fill="#e3eaf9" stroke="#8f9ad8" stroke-width="0.9" />
<path d="M384,612 A16,11 0 0 0 408,627" fill="none" stroke="#7fc79a" stroke-width="1.1" stroke-linejoin="round" stroke-linecap="round" />
<path d="M411,609 A17,11 0 0 1 400,627" fill="none" stroke="#8f9ad8" stroke-width="0.9" stroke-linejoin="round" stroke-linecap="round" />
<path d="M380,620 A15,9 0 0 1 390,604" fill="none" stroke="#4a7fd0" stroke-width="0.9" stroke-linejoin="round" stroke-linecap="round" />
<path d="M397,615 L397,562 Q397,542 420,537" fill="none" stroke="#2c2d44" stroke-width="22" stroke-linejoin="round" stroke-linecap="round" />
<path d="M397,615 L397,562 Q397,542 420,537" fill="none" stroke="#b7e1c2" stroke-width="19.5" stroke-linejoin="round" stroke-linecap="round" />
<ellipse cx="428.00" cy="537.00" rx="10.00" ry="15.00" fill="#9fd6b0" stroke="#2c2d44" stroke-width="1.2" transform="rotate(-25.00 428.00 537.00)" />
<ellipse cx="431.00" cy="536.00" rx="7.00" ry="12.00" fill="#b7e1c2" stroke="#2c2d44" stroke-width="1.2" transform="rotate(-25.00 431.00 536.00)" />
<ellipse cx="579.50" cy="609.50" rx="17.50" ry="19.50" fill="#c0c3ea" stroke="#2c2d44" stroke-width="1.2" />
<ellipse cx="583.50" cy="611.00" rx="11.00" ry="12.50" fill="#aab0de" stroke="#2c2d44" stroke-width="1.2" />
<ellipse cx="584.50" cy="612.00" rx="8.00" ry="9.50" fill="#8590c8" stroke="#2c2d44" stroke-width="1.2" />
<path d="M389.1,264 L446.8,390.2 A48.8,25 0 0 0 544.4,390.2 L606.6,264 Z" fill="#d2ebf3" stroke="#2c2d44" stroke-width="1.0" stroke-linejoin="round" stroke-linecap="round" fill-opacity="0.5"/>
<g opacity="0.35">
<polygon points="444.84,341.19 444.99,340.77 445.34,340.24 455.66,326.76 456.12,326.25 456.61,325.91 457.14,325.72 457.70,325.69 458.28,325.83 463.28,327.83 463.90,328.12 482.10,338.88 482.62,339.23 482.91,339.53 482.98,339.78 482.81,339.99 482.42,340.14 481.80,340.25 451.20,343.75 450.56,343.78 450.13,343.69 445.13,341.69 444.88,341.50" fill="#dc5c61" stroke="#5e2a34" stroke-width="1.2" stroke-linejoin="round" />
<path d="M463.90,328.12 Q462.00,327.00 460.66,328.76 L450.34,342.24 Q449.00,344.00 451.20,343.75 L481.80,340.25 Q484.00,340.00 482.10,338.88 Z" fill="url(#redface)" stroke="#5e2a34" stroke-width="1.2" stroke-linejoin="round" stroke-linecap="round" />
</g>
<g opacity="0.55">
<polygon points="502.00,311.60 522.00,323.20 522.00,345.20 502.00,333.60" fill="#b5cbe9" stroke="#2c2d44" stroke-width="1.1" stroke-linejoin="round" />
<polygon points="522.00,323.20 542.00,311.60 542.00,333.60 522.00,345.20" fill="#c8d9f2" stroke="#2c2d44" stroke-width="1.1" stroke-linejoin="round" />
<polygon points="522.00,300.00 542.00,311.60 522.00,323.20 502.00,311.60" fill="#d8e6f6" stroke="#2c2d44" stroke-width="1.1" stroke-linejoin="round" />
</g>
<ellipse cx="495.40" cy="265.00" rx="115.50" ry="65.00" fill="#a9bbe8" stroke="#2c2d44" stroke-width="1.2" />
<ellipse cx="495.40" cy="259.00" rx="115.50" ry="65.00" fill="#c9d7f5" stroke="#2c2d44" stroke-width="1.2" />
<ellipse cx="495.50" cy="262.00" rx="102.70" ry="52.50" fill="#d9eef3" stroke="#2c2d44" stroke-width="1.2" />
<g>
<polygon points="422.72,271.99 422.84,270.73 423.41,268.96 438.59,231.04 439.46,229.31 440.46,228.17 441.59,227.61 442.85,227.64 444.24,228.24 452.24,232.24 453.76,233.42 472.24,250.58 473.53,252.01 474.24,253.36 474.36,254.62 473.89,255.80 472.83,256.90 471.19,257.91 434.81,276.09 433.10,276.81 431.85,277.04 431.06,276.76 423.06,272.76" fill="#dc5c61" stroke="#5e2a34" stroke-width="1.2" stroke-linejoin="round" />
<path d="M453.76,233.42 Q449.00,229.00 446.59,235.04 L431.41,272.96 Q429.00,279.00 434.81,276.09 L471.19,257.91 Q477.00,255.00 472.24,250.58 Z" fill="url(#redface)" stroke="#5e2a34" stroke-width="1.2" stroke-linejoin="round" stroke-linecap="round" />
<path d="M449.67,241.83 Q452.92,238.33 455.92,241.83 L454.07,257.33 Q452.67,258.58 451.27,257.33 Z" fill="#fbe1e3" stroke="#5e2a34" stroke-width="0.7" stroke-linejoin="round" stroke-linecap="round" />
<ellipse cx="452.67" cy="262.83" rx="3.00" ry="3.25" fill="#fbe1e3" stroke="#5e2a34" stroke-width="0.7" />
</g>
<g>
<polygon points="419.64,269.12 419.75,267.89 420.30,266.20 434.70,229.80 435.53,228.14 436.50,227.04 437.59,226.49 438.81,226.49 440.17,227.05 443.17,229.05 444.65,230.16 463.35,246.84 464.61,248.19 465.31,249.46 465.44,250.65 464.99,251.76 463.98,252.79 462.40,253.74 426.60,271.26 424.96,271.93 423.75,272.14 422.98,271.86 419.98,269.86" fill="#dc5c61" stroke="#5e2a34" stroke-width="1.2" stroke-linejoin="round" />
<path d="M444.65,230.16 Q440.00,226.00 437.70,231.80 L423.30,268.20 Q421.00,274.00 426.60,271.26 L462.40,253.74 Q468.00,251.00 463.35,246.84 Z" fill="url(#redface)" stroke="#5e2a34" stroke-width="1.2" stroke-linejoin="round" stroke-linecap="round" />
</g>
<g>
<polygon points="430.72,275.99 430.84,274.73 431.41,272.96 446.59,235.04 447.46,233.31 448.46,232.17 449.59,231.61 450.85,231.64 452.24,232.24 453.76,233.42 472.24,250.58 473.53,252.01 474.24,253.36 474.36,254.62 473.89,255.80 472.83,256.90 471.19,257.91 434.81,276.09 433.10,276.81 431.85,277.04 431.06,276.76" fill="#dc5c61" stroke="#5e2a34" stroke-width="1.2" stroke-linejoin="round" />
<path d="M453.76,233.42 Q449.00,229.00 446.59,235.04 L431.41,272.96 Q429.00,279.00 434.81,276.09 L471.19,257.91 Q477.00,255.00 472.24,250.58 Z" fill="url(#redface)" stroke="#5e2a34" stroke-width="1.2" stroke-linejoin="round" stroke-linecap="round" />
<path d="M449.67,241.83 Q452.92,238.33 455.92,241.83 L454.07,257.33 Q452.67,258.58 451.27,257.33 Z" fill="#fbe1e3" stroke="#5e2a34" stroke-width="0.7" stroke-linejoin="round" stroke-linecap="round" />
<ellipse cx="452.67" cy="262.83" rx="3.00" ry="3.25" fill="#fbe1e3" stroke="#5e2a34" stroke-width="0.7" />
</g>
<g opacity="1.00">
<polygon points="450.00,259.54 463.00,267.08 463.00,280.08 450.00,272.54" fill="#aeb3e6" stroke="#2c2d44" stroke-width="1.1" stroke-linejoin="round" />
<polygon points="463.00,267.08 476.00,259.54 476.00,272.54 463.00,280.08" fill="#c3c7f0" stroke="#2c2d44" stroke-width="1.1" stroke-linejoin="round" />
<polygon points="463.00,252.00 476.00,259.54 463.00,267.08 450.00,259.54" fill="#d6daf5" stroke="#2c2d44" stroke-width="1.1" stroke-linejoin="round" />
</g>
<g>
<polygon points="503.07,258.76 503.25,257.31 503.97,255.35 523.03,212.65 524.06,210.78 525.17,209.60 526.35,209.12 527.61,209.33 534.61,213.33 535.95,214.23 537.37,215.82 555.63,240.18 556.78,242.03 557.30,243.70 557.21,245.20 556.49,246.51 555.16,247.65 553.21,248.61 514.79,263.39 512.80,264.00 511.35,264.10 510.44,263.68 503.44,259.68" fill="#dc5c61" stroke="#5e2a34" stroke-width="1.2" stroke-linejoin="round" />
<path d="M537.37,215.82 Q533.00,210.00 530.03,216.65 L510.97,259.35 Q508.00,266.00 514.79,263.39 L553.21,248.61 Q560.00,246.00 555.63,240.18 Z" fill="url(#redface)" stroke="#5e2a34" stroke-width="1.2" stroke-linejoin="round" stroke-linecap="round" />
<path d="M531.43,226.67 Q535.07,222.75 538.43,226.67 L536.35,244.03 Q534.79,245.43 533.22,244.03 Z" fill="#fbe1e3" stroke="#5e2a34" stroke-width="0.7" stroke-linejoin="round" stroke-linecap="round" />
<ellipse cx="534.79" cy="250.19" rx="3.36" ry="3.64" fill="#fbe1e3" stroke="#5e2a34" stroke-width="0.7" />
</g>
<g opacity="1.00">
<polygon points="515.50,268.01 535.00,279.32 535.00,300.77 515.50,289.46" fill="#6fc1a2" stroke="#2c2d44" stroke-width="1.1" stroke-linejoin="round" />
<polygon points="535.00,279.32 554.50,268.01 554.50,289.46 535.00,300.77" fill="#8fd2b6" stroke="#2c2d44" stroke-width="1.1" stroke-linejoin="round" />
<polygon points="535.00,256.70 554.50,268.01 535.00,279.32 515.50,268.01" fill="#a8dec9" stroke="#2c2d44" stroke-width="1.1" stroke-linejoin="round" />
</g>
<g>
<polygon points="451.30,315.22 451.42,314.30 451.87,313.14 464.13,287.86 464.78,286.77 465.49,286.07 466.26,285.75 467.09,285.83 467.97,286.29 472.97,289.29 473.91,290.15 493.09,310.85 493.86,311.83 494.23,312.67 494.21,313.37 493.79,313.93 492.97,314.34 491.76,314.62 459.24,319.38 458.00,319.46 457.09,319.30 452.09,316.30 451.53,315.88" fill="#dc5c61" stroke="#5e2a34" stroke-width="1.2" stroke-linejoin="round" />
<path d="M473.91,290.15 Q471.00,287.00 469.13,290.86 L456.87,316.14 Q455.00,320.00 459.24,319.38 L491.76,314.62 Q496.00,314.00 493.09,310.85 Z" fill="url(#redface)" stroke="#5e2a34" stroke-width="1.2" stroke-linejoin="round" stroke-linecap="round" />
<path d="M472.68,298.75 Q474.83,296.44 476.81,298.75 L475.58,308.98 Q474.66,309.81 473.74,308.98 Z" fill="#fbe1e3" stroke="#5e2a34" stroke-width="0.7" stroke-linejoin="round" stroke-linecap="round" />
<ellipse cx="474.66" cy="312.61" rx="1.98" ry="2.15" fill="#fbe1e3" stroke="#5e2a34" stroke-width="0.7" />
</g>
<path d="M379.9,259 A115.5,65 0 0 0 610.9,259 L610.9,265 A115.5,65 0 0 1 379.9,265 Z" fill="#a9bbe8" stroke="none" stroke-width="1.2" stroke-linejoin="round" stroke-linecap="round" />
<path d="M379.9,265 A115.5,65 0 0 0 610.9,265" fill="none" stroke="#2c2d44" stroke-width="1.2" stroke-linejoin="round" stroke-linecap="round" />
<path d="M392.8,262 A102.7,52.5 0 0 0 598.2,262 L610.9,259 A115.5,65 0 0 1 379.9,259 Z" fill="#c9d7f5" stroke="none" stroke-width="1.2" stroke-linejoin="round" stroke-linecap="round" />
<path d="M392.8,262 A102.7,52.5 0 0 0 598.2,262" fill="none" stroke="#2c2d44" stroke-width="1.2" stroke-linejoin="round" stroke-linecap="round" />
<path d="M379.9,259 A115.5,65 0 0 0 610.9,259" fill="none" stroke="#2c2d44" stroke-width="1.2" stroke-linejoin="round" stroke-linecap="round" />
<g opacity="1.00">
<polygon points="469.70,174.12 493.70,188.04 493.70,213.48 469.70,199.56" fill="#a5abe5" stroke="#2c2d44" stroke-width="1.1" stroke-linejoin="round" />
<polygon points="493.70,188.04 517.70,174.12 517.70,199.56 493.70,213.48" fill="#b9bdf1" stroke="#2c2d44" stroke-width="1.1" stroke-linejoin="round" />
<polygon points="493.70,160.20 517.70,174.12 493.70,188.04 469.70,174.12" fill="#c9ccf4" stroke="#2c2d44" stroke-width="1.1" stroke-linejoin="round" />
</g>
<path d="M584.6,613.2 L772,721" fill="none" stroke="#2c2d44" stroke-width="6.5" stroke-linejoin="round" stroke-linecap="round" />
<path d="M584.6,613.2 L772,721" fill="none" stroke="#6ea0e2" stroke-width="4" stroke-linejoin="round" stroke-linecap="round" />
<polygon points="616.00,611.00 637.00,598.00 764.00,667.00 776.80,669.40 779.00,691.70 738.00,691.70 746.00,685.00" fill="url(#bluearrow)" stroke="none" stroke-width="1.2" stroke-linejoin="round" />
<path d="M637,598 L764,667 L776.8,669.4 L779,691.7 L738,691.7 L746,685 L690,655" fill="none" stroke="#2c2d44" stroke-width="1.0" stroke-linejoin="round" stroke-linecap="round" />
<path d="M616,611 L650,628" fill="none" stroke="#2c2d44" stroke-width="0.8" stroke-linejoin="round" stroke-linecap="round" />
<path d="M663.00,586.00 Q663.00,577.00 671.13,573.15 L730.87,544.85 Q739.00,541.00 739.00,550.00 L739.00,588.00 Q739.00,597.00 731.83,602.45 L717.18,613.58 Q714.00,616.00 712.21,619.58 L702.89,638.21 Q702.00,640.00 700.29,638.97 L689.57,632.54 Q687.00,631.00 684.09,631.73 L670.76,635.06 Q663.00,637.00 663.00,629.00 Z" fill="#5d92de" stroke="none" stroke-width="1.2" stroke-linejoin="round" stroke-linecap="round" />
<path d="M663.92,586.67 Q663.92,577.67 672.05,573.81 L731.78,545.52 Q739.92,541.67 739.92,550.67 L739.92,588.67 Q739.92,597.67 732.75,603.11 L718.10,614.25 Q714.92,616.67 713.13,620.24 L703.81,638.88 Q702.92,640.67 701.20,639.64 L690.49,633.21 Q687.92,631.67 685.01,632.39 L671.68,635.73 Q663.92,637.67 663.92,629.67 Z" fill="#5d92de" stroke="none" stroke-width="1.2" stroke-linejoin="round" stroke-linecap="round" />
<path d="M664.83,587.33 Q664.83,578.33 672.97,574.48 L732.70,546.19 Q740.83,542.33 740.83,551.33 L740.83,589.33 Q740.83,598.33 733.67,603.78 L719.02,614.91 Q715.83,617.33 714.04,620.91 L704.73,639.54 Q703.83,641.33 702.12,640.30 L691.41,633.88 Q688.83,632.33 685.92,633.06 L672.59,636.39 Q664.83,638.33 664.83,630.33 Z" fill="#5d92de" stroke="none" stroke-width="1.2" stroke-linejoin="round" stroke-linecap="round" />
<path d="M665.75,588.00 Q665.75,579.00 673.88,575.15 L733.62,546.85 Q741.75,543.00 741.75,552.00 L741.75,590.00 Q741.75,599.00 734.58,604.45 L719.93,615.58 Q716.75,618.00 714.96,621.58 L705.64,640.21 Q704.75,642.00 703.04,640.97 L692.32,634.54 Q689.75,633.00 686.84,633.73 L673.51,637.06 Q665.75,639.00 665.75,631.00 Z" fill="#5d92de" stroke="none" stroke-width="1.2" stroke-linejoin="round" stroke-linecap="round" />
<path d="M666.67,588.67 Q666.67,579.67 674.80,575.81 L734.53,547.52 Q742.67,543.67 742.67,552.67 L742.67,590.67 Q742.67,599.67 735.50,605.11 L720.85,616.25 Q717.67,618.67 715.88,622.24 L706.56,640.88 Q705.67,642.67 703.95,641.64 L693.24,635.21 Q690.67,633.67 687.76,634.39 L674.43,637.73 Q666.67,639.67 666.67,631.67 Z" fill="#5d92de" stroke="none" stroke-width="1.2" stroke-linejoin="round" stroke-linecap="round" />
<path d="M667.58,589.33 Q667.58,580.33 675.72,576.48 L735.45,548.19 Q743.58,544.33 743.58,553.33 L743.58,591.33 Q743.58,600.33 736.42,605.78 L721.77,616.91 Q718.58,619.33 716.79,622.91 L707.48,641.54 Q706.58,643.33 704.87,642.30 L694.16,635.88 Q691.58,634.33 688.67,635.06 L675.34,638.39 Q667.58,640.33 667.58,632.33 Z" fill="#5d92de" stroke="none" stroke-width="1.2" stroke-linejoin="round" stroke-linecap="round" />
<path d="M668.50,590.00 Q668.50,581.00 676.63,577.15 L736.37,548.85 Q744.50,545.00 744.50,554.00 L744.50,592.00 Q744.50,601.00 737.33,606.45 L722.68,617.58 Q719.50,620.00 717.71,623.58 L708.39,642.21 Q707.50,644.00 705.79,642.97 L695.07,636.54 Q692.50,635.00 689.59,635.73 L676.26,639.06 Q668.50,641.00 668.50,633.00 Z" fill="#5d92de" stroke="none" stroke-width="1.2" stroke-linejoin="round" stroke-linecap="round" />
<path d="M669.42,590.67 Q669.42,581.67 677.55,577.81 L737.28,549.52 Q745.42,545.67 745.42,554.67 L745.42,592.67 Q745.42,601.67 738.25,607.11 L723.60,618.25 Q720.42,620.67 718.63,624.24 L709.31,642.88 Q708.42,644.67 706.70,643.64 L695.99,637.21 Q693.42,635.67 690.51,636.39 L677.18,639.73 Q669.42,641.67 669.42,633.67 Z" fill="#5d92de" stroke="none" stroke-width="1.2" stroke-linejoin="round" stroke-linecap="round" />
<path d="M670.33,591.33 Q670.33,582.33 678.47,578.48 L738.20,550.19 Q746.33,546.33 746.33,555.33 L746.33,593.33 Q746.33,602.33 739.17,607.78 L724.52,618.91 Q721.33,621.33 719.54,624.91 L710.23,643.54 Q709.33,645.33 707.62,644.30 L696.91,637.88 Q694.33,636.33 691.42,637.06 L678.09,640.39 Q670.33,642.33 670.33,634.33 Z" fill="#5d92de" stroke="none" stroke-width="1.2" stroke-linejoin="round" stroke-linecap="round" />
<path d="M671.25,592.00 Q671.25,583.00 679.38,579.15 L739.12,550.85 Q747.25,547.00 747.25,556.00 L747.25,594.00 Q747.25,603.00 740.08,608.45 L725.43,619.58 Q722.25,622.00 720.46,625.58 L711.14,644.21 Q710.25,646.00 708.54,644.97 L697.82,638.54 Q695.25,637.00 692.34,637.73 L679.01,641.06 Q671.25,643.00 671.25,635.00 Z" fill="#5d92de" stroke="none" stroke-width="1.2" stroke-linejoin="round" stroke-linecap="round" />
<path d="M672.17,592.67 Q672.17,583.67 680.30,579.81 L740.03,551.52 Q748.17,547.67 748.17,556.67 L748.17,594.67 Q748.17,603.67 741.00,609.11 L726.35,620.25 Q723.17,622.67 721.38,626.24 L712.06,644.88 Q711.17,646.67 709.45,645.64 L698.74,639.21 Q696.17,637.67 693.26,638.39 L679.93,641.73 Q672.17,643.67 672.17,635.67 Z" fill="#5d92de" stroke="none" stroke-width="1.2" stroke-linejoin="round" stroke-linecap="round" />
<path d="M673.08,593.33 Q673.08,584.33 681.22,580.48 L740.95,552.19 Q749.08,548.33 749.08,557.33 L749.08,595.33 Q749.08,604.33 741.92,609.78 L727.27,620.91 Q724.08,623.33 722.29,626.91 L712.98,645.54 Q712.08,647.33 710.37,646.30 L699.66,639.88 Q697.08,638.33 694.17,639.06 L680.84,642.39 Q673.08,644.33 673.08,636.33 Z" fill="#5d92de" stroke="none" stroke-width="1.2" stroke-linejoin="round" stroke-linecap="round" />
<path d="M663.00,586.00 Q663.00,577.00 671.13,573.15 L730.87,544.85 Q739.00,541.00 739.00,550.00 L739.00,588.00 Q739.00,597.00 731.83,602.45 L717.18,613.58 Q714.00,616.00 712.21,619.58 L702.89,638.21 Q702.00,640.00 700.29,638.97 L689.57,632.54 Q687.00,631.00 684.09,631.73 L670.76,635.06 Q663.00,637.00 663.00,629.00 Z" fill="none" stroke="#2c2d44" stroke-width="1.2" stroke-linejoin="round" stroke-linecap="round" />
<path d="M674.00,594.00 Q674.00,585.00 682.13,581.15 L741.87,552.85 Q750.00,549.00 750.00,558.00 L750.00,596.00 Q750.00,605.00 742.83,610.45 L728.18,621.58 Q725.00,624.00 723.21,627.58 L713.89,646.21 Q713.00,648.00 711.29,646.97 L700.57,640.54 Q698.00,639.00 695.09,639.73 L681.76,643.06 Q674.00,645.00 674.00,637.00 Z" fill="#77abeb" stroke="#2c2d44" stroke-width="1.2" stroke-linejoin="round" stroke-linecap="round" />
<polygon points="694.00,598.00 731.00,578.00 731.00,604.00 694.00,624.00" fill="#e1ecf9" stroke="#2c2d44" stroke-width="1.0" stroke-linejoin="round" />
<path d="M694,598 L712,606 L731,578 M694,624 L708,605 M731,604 L720,598" fill="none" stroke="#2c2d44" stroke-width="0.8" stroke-linejoin="round" stroke-linecap="round" />
<ellipse cx="733.60" cy="572.00" rx="10.00" ry="11.00" fill="#f7f8fc" stroke="#2c2d44" stroke-width="1.1" />
<path d="M730,566 l6,3" fill="none" stroke="#3aa7e0" stroke-width="1.8" stroke-linejoin="round" stroke-linecap="round" />
<path d="M737,567 l-2,6" fill="none" stroke="#3cbf8f" stroke-width="1.8" stroke-linejoin="round" stroke-linecap="round" />
<path d="M736,577 l-6,-3" fill="none" stroke="#e8c43a" stroke-width="1.8" stroke-linejoin="round" stroke-linecap="round" />
<path d="M729,576 l2,-6" fill="none" stroke="#e04848" stroke-width="1.8" stroke-linejoin="round" stroke-linecap="round" />
<polygon points="692.00,769.80 786.00,715.30 940.40,798.60 845.00,857.60" fill="#e2ddf4" stroke="#2c2d44" stroke-width="1.2" stroke-linejoin="round" />
<polygon points="692.00,769.80 845.00,857.60 845.00,866.00 692.00,778.00" fill="#b9b1e3" stroke="#2c2d44" stroke-width="1.2" stroke-linejoin="round" />
<polygon points="845.00,857.60 940.40,798.60 940.40,806.00 845.00,866.00" fill="#c8c1ea" stroke="#2c2d44" stroke-width="1.2" stroke-linejoin="round" />
<g transform="matrix(0.93143 0.52143 -1.67667 0.87000 792.000 726.000)">
<rect x="0" y="0" width="140" height="30" rx="2" fill="#c9c2ea" stroke="#2c2d44" stroke-width="0.9"/>
<rect x="2.00" y="1.20" width="8" height="4.4" rx="1" fill="#dfd9f6" stroke="#2c2d44" stroke-width="0.8"/>
<rect x="11.70" y="1.20" width="8" height="4.4" rx="1" fill="#dfd9f6" stroke="#2c2d44" stroke-width="0.8"/>
<rect x="21.40" y="1.20" width="8" height="4.4" rx="1" fill="#dfd9f6" stroke="#2c2d44" stroke-width="0.8"/>
<rect x="31.10" y="1.20" width="8" height="4.4" rx="1" fill="#dfd9f6" stroke="#2c2d44" stroke-width="0.8"/>
<rect x="40.80" y="1.20" width="8" height="4.4" rx="1" fill="#dfd9f6" stroke="#2c2d44" stroke-width="0.8"/>
<rect x="50.50" y="1.20" width="8" height="4.4" rx="1" fill="#dfd9f6" stroke="#2c2d44" stroke-width="0.8"/>
<rect x="60.20" y="1.20" width="8" height="4.4" rx="1" fill="#dfd9f6" stroke="#2c2d44" stroke-width="0.8"/>
<rect x="69.90" y="1.20" width="8" height="4.4" rx="1" fill="#dfd9f6" stroke="#2c2d44" stroke-width="0.8"/>
<rect x="79.60" y="1.20" width="8" height="4.4" rx="1" fill="#dfd9f6" stroke="#2c2d44" stroke-width="0.8"/>
<rect x="89.30" y="1.20" width="8" height="4.4" rx="1" fill="#dfd9f6" stroke="#2c2d44" stroke-width="0.8"/>
<rect x="99.00" y="1.20" width="8" height="4.4" rx="1" fill="#dfd9f6" stroke="#2c2d44" stroke-width="0.8"/>
<rect x="108.70" y="1.20" width="8" height="4.4" rx="1" fill="#dfd9f6" stroke="#2c2d44" stroke-width="0.8"/>
<rect x="118.40" y="1.20" width="8" height="4.4" rx="1" fill="#dfd9f6" stroke="#2c2d44" stroke-width="0.8"/>
<rect x="128.10" y="1.20" width="8" height="4.4" rx="1" fill="#dfd9f6" stroke="#2c2d44" stroke-width="0.8"/>
<rect x="2.00" y="6.90" width="8" height="4.4" rx="1" fill="#dfd9f6" stroke="#2c2d44" stroke-width="0.8"/>
<rect x="11.70" y="6.90" width="8" height="4.4" rx="1" fill="#dfd9f6" stroke="#2c2d44" stroke-width="0.8"/>
<rect x="21.40" y="6.90" width="8" height="4.4" rx="1" fill="#dfd9f6" stroke="#2c2d44" stroke-width="0.8"/>
<rect x="31.10" y="6.90" width="8" height="4.4" rx="1" fill="#dfd9f6" stroke="#2c2d44" stroke-width="0.8"/>
<rect x="40.80" y="6.90" width="8" height="4.4" rx="1" fill="#dfd9f6" stroke="#2c2d44" stroke-width="0.8"/>
<rect x="50.50" y="6.90" width="8" height="4.4" rx="1" fill="#dfd9f6" stroke="#2c2d44" stroke-width="0.8"/>
<rect x="60.20" y="6.90" width="8" height="4.4" rx="1" fill="#dfd9f6" stroke="#2c2d44" stroke-width="0.8"/>
<rect x="69.90" y="6.90" width="8" height="4.4" rx="1" fill="#dfd9f6" stroke="#2c2d44" stroke-width="0.8"/>
<rect x="79.60" y="6.90" width="8" height="4.4" rx="1" fill="#dfd9f6" stroke="#2c2d44" stroke-width="0.8"/>
<rect x="89.30" y="6.90" width="8" height="4.4" rx="1" fill="#dfd9f6" stroke="#2c2d44" stroke-width="0.8"/>
<rect x="99.00" y="6.90" width="8" height="4.4" rx="1" fill="#dfd9f6" stroke="#2c2d44" stroke-width="0.8"/>
<rect x="108.70" y="6.90" width="8" height="4.4" rx="1" fill="#dfd9f6" stroke="#2c2d44" stroke-width="0.8"/>
<rect x="118.40" y="6.90" width="8" height="4.4" rx="1" fill="#dfd9f6" stroke="#2c2d44" stroke-width="0.8"/>
<rect x="128.10" y="6.90" width="8" height="4.4" rx="1" fill="#dfd9f6" stroke="#2c2d44" stroke-width="0.8"/>
<rect x="2.00" y="12.60" width="8" height="4.4" rx="1" fill="#dfd9f6" stroke="#2c2d44" stroke-width="0.8"/>
<rect x="11.70" y="12.60" width="8" height="4.4" rx="1" fill="#dfd9f6" stroke="#2c2d44" stroke-width="0.8"/>
<rect x="21.40" y="12.60" width="8" height="4.4" rx="1" fill="#dfd9f6" stroke="#2c2d44" stroke-width="0.8"/>
<rect x="31.10" y="12.60" width="8" height="4.4" rx="1" fill="#dfd9f6" stroke="#2c2d44" stroke-width="0.8"/>
<rect x="40.80" y="12.60" width="8" height="4.4" rx="1" fill="#dfd9f6" stroke="#2c2d44" stroke-width="0.8"/>
<rect x="50.50" y="12.60" width="8" height="4.4" rx="1" fill="#dfd9f6" stroke="#2c2d44" stroke-width="0.8"/>
<rect x="60.20" y="12.60" width="8" height="4.4" rx="1" fill="#dfd9f6" stroke="#2c2d44" stroke-width="0.8"/>
<rect x="69.90" y="12.60" width="8" height="4.4" rx="1" fill="#dfd9f6" stroke="#2c2d44" stroke-width="0.8"/>
<rect x="79.60" y="12.60" width="8" height="4.4" rx="1" fill="#dfd9f6" stroke="#2c2d44" stroke-width="0.8"/>
<rect x="89.30" y="12.60" width="8" height="4.4" rx="1" fill="#dfd9f6" stroke="#2c2d44" stroke-width="0.8"/>
<rect x="99.00" y="12.60" width="8" height="4.4" rx="1" fill="#dfd9f6" stroke="#2c2d44" stroke-width="0.8"/>
<rect x="108.70" y="12.60" width="8" height="4.4" rx="1" fill="#dfd9f6" stroke="#2c2d44" stroke-width="0.8"/>
<rect x="118.40" y="12.60" width="8" height="4.4" rx="1" fill="#dfd9f6" stroke="#2c2d44" stroke-width="0.8"/>
<rect x="128.10" y="12.60" width="8" height="4.4" rx="1" fill="#dfd9f6" stroke="#2c2d44" stroke-width="0.8"/>
<rect x="2.00" y="18.30" width="8" height="4.4" rx="1" fill="#dfd9f6" stroke="#2c2d44" stroke-width="0.8"/>
<rect x="11.70" y="18.30" width="8" height="4.4" rx="1" fill="#dfd9f6" stroke="#2c2d44" stroke-width="0.8"/>
<rect x="21.40" y="18.30" width="8" height="4.4" rx="1" fill="#dfd9f6" stroke="#2c2d44" stroke-width="0.8"/>
<rect x="31.10" y="18.30" width="8" height="4.4" rx="1" fill="#dfd9f6" stroke="#2c2d44" stroke-width="0.8"/>
<rect x="40.80" y="18.30" width="8" height="4.4" rx="1" fill="#dfd9f6" stroke="#2c2d44" stroke-width="0.8"/>
<rect x="50.50" y="18.30" width="8" height="4.4" rx="1" fill="#dfd9f6" stroke="#2c2d44" stroke-width="0.8"/>
<rect x="60.20" y="18.30" width="8" height="4.4" rx="1" fill="#dfd9f6" stroke="#2c2d44" stroke-width="0.8"/>
<rect x="69.90" y="18.30" width="8" height="4.4" rx="1" fill="#dfd9f6" stroke="#2c2d44" stroke-width="0.8"/>
<rect x="79.60" y="18.30" width="8" height="4.4" rx="1" fill="#dfd9f6" stroke="#2c2d44" stroke-width="0.8"/>
<rect x="89.30" y="18.30" width="8" height="4.4" rx="1" fill="#dfd9f6" stroke="#2c2d44" stroke-width="0.8"/>
<rect x="99.00" y="18.30" width="8" height="4.4" rx="1" fill="#dfd9f6" stroke="#2c2d44" stroke-width="0.8"/>
<rect x="108.70" y="18.30" width="8" height="4.4" rx="1" fill="#dfd9f6" stroke="#2c2d44" stroke-width="0.8"/>
<rect x="118.40" y="18.30" width="8" height="4.4" rx="1" fill="#dfd9f6" stroke="#2c2d44" stroke-width="0.8"/>
<rect x="128.10" y="18.30" width="8" height="4.4" rx="1" fill="#dfd9f6" stroke="#2c2d44" stroke-width="0.8"/>
<rect x="2.00" y="24.00" width="8" height="4.4" rx="1" fill="#dfd9f6" stroke="#2c2d44" stroke-width="0.8"/>
<rect x="11.70" y="24.00" width="8" height="4.4" rx="1" fill="#dfd9f6" stroke="#2c2d44" stroke-width="0.8"/>
<rect x="21.40" y="24.00" width="8" height="4.4" rx="1" fill="#dfd9f6" stroke="#2c2d44" stroke-width="0.8"/>
<rect x="31.10" y="24.00" width="8" height="4.4" rx="1" fill="#dfd9f6" stroke="#2c2d44" stroke-width="0.8"/>
<rect x="40.80" y="24.00" width="8" height="4.4" rx="1" fill="#dfd9f6" stroke="#2c2d44" stroke-width="0.8"/>
<rect x="50.50" y="24.00" width="8" height="4.4" rx="1" fill="#dfd9f6" stroke="#2c2d44" stroke-width="0.8"/>
<rect x="60.20" y="24.00" width="8" height="4.4" rx="1" fill="#dfd9f6" stroke="#2c2d44" stroke-width="0.8"/>
<rect x="69.90" y="24.00" width="8" height="4.4" rx="1" fill="#dfd9f6" stroke="#2c2d44" stroke-width="0.8"/>
<rect x="79.60" y="24.00" width="8" height="4.4" rx="1" fill="#dfd9f6" stroke="#2c2d44" stroke-width="0.8"/>
<rect x="89.30" y="24.00" width="8" height="4.4" rx="1" fill="#dfd9f6" stroke="#2c2d44" stroke-width="0.8"/>
<rect x="99.00" y="24.00" width="8" height="4.4" rx="1" fill="#dfd9f6" stroke="#2c2d44" stroke-width="0.8"/>
<rect x="108.70" y="24.00" width="8" height="4.4" rx="1" fill="#dfd9f6" stroke="#2c2d44" stroke-width="0.8"/>
<rect x="118.40" y="24.00" width="8" height="4.4" rx="1" fill="#dfd9f6" stroke="#2c2d44" stroke-width="0.8"/>
<rect x="128.10" y="24.00" width="8" height="4.4" rx="1" fill="#dfd9f6" stroke="#2c2d44" stroke-width="0.8"/>
</g>
<path d="M749.22,798.46 Q746.60,797.00 749.19,795.49 L772.41,781.91 Q775.00,780.40 777.62,781.86 L823.08,807.29 Q825.70,808.75 823.11,810.26 L799.99,823.79 Q797.40,825.30 794.78,823.84 Z" fill="#d6d0ef" stroke="#2c2d44" stroke-width="1.0" stroke-linejoin="round" stroke-linecap="round" />
<path d="M752,811 L781,827" fill="none" stroke="#2c2d44" stroke-width="3.2" stroke-linejoin="round" stroke-linecap="round" />
<path d="M752,811 L781,827" fill="none" stroke="#c4bde8" stroke-width="1.6" stroke-linejoin="round" stroke-linecap="round" />
<path d="M797.23,713.14 Q794.60,711.70 795.23,708.77 L821.43,587.36 Q822.70,581.50 827.97,584.37 L972.33,662.83 Q977.60,665.70 976.40,671.58 L951.30,794.16 Q950.70,797.10 948.07,795.66 Z" fill="#c9c2ea" stroke="#2c2d44" stroke-width="1.1" stroke-linejoin="round" stroke-linecap="round" />
<path d="M793.73,715.64 Q791.10,714.20 791.73,711.27 L817.93,589.86 Q819.20,584.00 824.47,586.87 L968.83,665.33 Q974.10,668.20 972.90,674.08 L947.80,796.66 Q947.20,799.60 944.57,798.16 Z" fill="#ddd8f2" stroke="#2c2d44" stroke-width="1.2" stroke-linejoin="round" stroke-linecap="round" />
<path d="M798.23,711.15 Q795.60,709.70 796.25,706.77 L820.75,595.93 Q821.40,593.00 824.04,594.42 L964.76,670.18 Q967.40,671.60 966.79,674.54 L943.31,787.66 Q942.70,790.60 940.07,789.15 Z" fill="#9ee2e1" stroke="#2c2d44" stroke-width="1.0" stroke-linejoin="round" stroke-linecap="round" />
<g transform="matrix(1.30200 0.73000 -0.20300 1.02200 826.000 603.000)">
<rect x="0" y="0" width="100" height="100" fill="#4e2452" stroke="#2c2d44" stroke-width="0.8"/>
<rect x="20" y="10" width="80" height="90" fill="#fbfbfd"/>
<rect x="0" y="26" width="20" height="6" fill="#3f7ea6"/>
<rect x="3" y="14" width="12" height="3" rx="1" fill="#7a4a7e"/>
<rect x="3" y="37" width="12" height="3" rx="1" fill="#7a4a7e"/>
<rect x="3" y="43" width="12" height="3" rx="1" fill="#7a4a7e"/>
<circle cx="3" cy="4" r="1.3" fill="#e8594a"/><circle cx="6.5" cy="4" r="1.3" fill="#e8b64a"/><circle cx="10" cy="4" r="1.3" fill="#e8b64a"/>
<rect x="25" y="16" width="18" height="3" rx="1" fill="#cfcfd6"/>
<rect x="24" y="27" width="7" height="9" rx="1" fill="#3cbf8f"/>
<rect x="35" y="28" width="20" height="3" rx="1" fill="#c9c9d0"/>
<rect x="35" y="33" width="45" height="2.5" rx="1" fill="#dedee4"/>
<rect x="24" y="46" width="7" height="9" rx="1" fill="#f2b233"/>
<rect x="35" y="47" width="20" height="3" rx="1" fill="#c9c9d0"/>
<rect x="35" y="52" width="45" height="2.5" rx="1" fill="#dedee4"/>
<rect x="24" y="65" width="7" height="9" rx="1" fill="#c2b8ec"/>
<rect x="35" y="66" width="20" height="3" rx="1" fill="#c9c9d0"/>
<rect x="35" y="71" width="45" height="2.5" rx="1" fill="#dedee4"/>
<rect x="24" y="82" width="72" height="13" rx="2" fill="none" stroke="#dcdce4" stroke-width="0.8"/>
</g>
<rect x="844.5" y="30.5" width="148.5" height="28.5" rx="14.2" fill="#e4effd" stroke="#2d63d6" stroke-width="2"/>
<text x="849.3" y="48.6" textLength="139.7" lengthAdjust="spacing" font-family="Liberation Sans, sans-serif" font-weight="bold" font-size="10.3" fill="#3463cc">SHINEOS INC. TECH BLOG</text></svg></body></html>
